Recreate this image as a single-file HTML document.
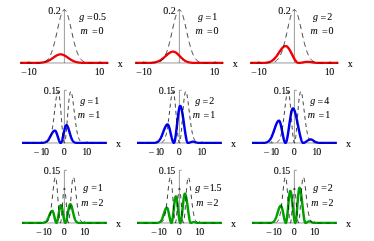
<!DOCTYPE html>
<html><head><meta charset="utf-8"><title>plots</title>
<style>html,body{margin:0;padding:0;background:#fff;font-family:"Liberation Serif",serif;}svg{display:block;will-change:transform}</style>
</head><body>
<svg width="374" height="241" viewBox="0 0 374 241">
<rect width="374" height="241" fill="#fff"/>
<path d="M20.20,62.96 H108.30 M64.40,62.96 V9.30" stroke="#555" stroke-width="0.6" fill="none"/>
<path d="M28.80,62.96 v-1.9 M100.00,62.96 v-1.9 " stroke="#222" stroke-width="0.6" fill="none"/>
<g transform="scale(1.1,1)"><path d="M18.36,62.96 L18.63,62.96 L18.90,62.96 L19.16,62.96 L19.43,62.96 L19.70,62.96 L19.97,62.96 L20.23,62.96 L20.50,62.96 L20.77,62.96 L21.03,62.96 L21.30,62.96 L21.57,62.96 L21.83,62.96 L22.10,62.96 L22.37,62.96 L22.64,62.96 L22.90,62.96 L23.17,62.96 L23.44,62.96 L23.70,62.96 L23.97,62.96 L24.24,62.96 L24.50,62.96 L24.77,62.96 L25.04,62.96 L25.30,62.96 L25.57,62.96 L25.84,62.96 L26.11,62.96 L26.37,62.96 L26.64,62.96 L26.91,62.96 L27.17,62.96 L27.44,62.96 L27.71,62.96 L27.97,62.96 L28.24,62.96 L28.51,62.96 L28.78,62.96 L29.04,62.96 L29.31,62.95 L29.58,62.95 L29.84,62.95 L30.11,62.95 L30.38,62.95 L30.64,62.95 L30.91,62.95 L31.18,62.94 L31.45,62.94 L31.71,62.94 L31.98,62.94 L32.25,62.93 L32.51,62.93 L32.78,62.92 L33.05,62.92 L33.31,62.91 L33.58,62.91 L33.85,62.90 L34.11,62.89 L34.38,62.88 L34.65,62.87 L34.92,62.86 L35.18,62.85 L35.45,62.84 L35.72,62.82 L35.98,62.81 L36.25,62.79 L36.52,62.77 L36.78,62.75 L37.05,62.72 L37.32,62.70 L37.59,62.67 L37.85,62.64 L38.12,62.60 L38.39,62.57 L38.65,62.53 L38.92,62.48 L39.19,62.43 L39.45,62.38 L39.72,62.33 L39.99,62.27 L40.26,62.20 L40.52,62.14 L40.79,62.06 L41.06,61.98 L41.32,61.90 L41.59,61.81 L41.86,61.72 L42.12,61.62 L42.39,61.51 L42.66,61.40 L42.92,61.28 L43.19,61.16 L43.46,61.03 L43.73,60.90 L43.99,60.75 L44.26,60.61 L44.53,60.45 L44.79,60.29 L45.06,60.13 L45.33,59.96 L45.59,59.78 L45.86,59.60 L46.13,59.42 L46.40,59.23 L46.66,59.04 L46.93,58.84 L47.20,58.64 L47.46,58.44 L47.73,58.23 L48.00,58.03 L48.26,57.82 L48.53,57.61 L48.80,57.41 L49.07,57.20 L49.33,57.00 L49.60,56.80 L49.87,56.60 L50.13,56.41 L50.40,56.22 L50.67,56.03 L50.93,55.85 L51.20,55.68 L51.47,55.52 L51.73,55.37 L52.00,55.22 L52.27,55.08 L52.54,54.96 L52.80,54.84 L53.07,54.74 L53.34,54.65 L53.60,54.57 L53.87,54.50 L54.14,54.45 L54.40,54.40 L54.67,54.38 L54.94,54.36 L55.21,54.36 L55.47,54.37 L55.74,54.40 L56.01,54.44 L56.27,54.49 L56.54,54.56 L56.81,54.64 L57.07,54.73 L57.34,54.83 L57.61,54.94 L57.88,55.07 L58.14,55.20 L58.41,55.35 L58.68,55.50 L58.94,55.66 L59.21,55.83 L59.48,56.01 L59.74,56.19 L60.01,56.38 L60.28,56.57 L60.54,56.77 L60.81,56.97 L61.08,57.17 L61.35,57.38 L61.61,57.58 L61.88,57.79 L62.15,58.00 L62.41,58.20 L62.68,58.41 L62.95,58.61 L63.21,58.81 L63.48,59.01 L63.75,59.20 L64.02,59.39 L64.28,59.58 L64.55,59.76 L64.82,59.94 L65.08,60.11 L65.35,60.27 L65.62,60.43 L65.88,60.59 L66.15,60.73 L66.42,60.88 L66.69,61.01 L66.95,61.14 L67.22,61.27 L67.49,61.38 L67.75,61.50 L68.02,61.60 L68.29,61.70 L68.55,61.80 L68.82,61.89 L69.09,61.97 L69.35,62.05 L69.62,62.13 L69.89,62.19 L70.16,62.26 L70.42,62.32 L70.69,62.38 L70.96,62.43 L71.22,62.48 L71.49,62.52 L71.76,62.56 L72.02,62.60 L72.29,62.63 L72.56,62.66 L72.83,62.69 L73.09,62.72 L73.36,62.74 L73.63,62.77 L73.89,62.79 L74.16,62.81 L74.43,62.82 L74.69,62.84 L74.96,62.85 L75.23,62.86 L75.50,62.87 L75.76,62.88 L76.03,62.89 L76.30,62.90 L76.56,62.91 L76.83,62.91 L77.10,62.92 L77.36,62.92 L77.63,62.93 L77.90,62.93 L78.16,62.94 L78.43,62.94 L78.70,62.94 L78.97,62.94 L79.23,62.95 L79.50,62.95 L79.77,62.95 L80.03,62.95 L80.30,62.95 L80.57,62.95 L80.83,62.95 L81.10,62.96 L81.37,62.96 L81.64,62.96 L81.90,62.96 L82.17,62.96 L82.44,62.96 L82.70,62.96 L82.97,62.96 L83.24,62.96 L83.50,62.96 L83.77,62.96 L84.04,62.96 L84.31,62.96 L84.57,62.96 L84.84,62.96 L85.11,62.96 L85.37,62.96 L85.64,62.96 L85.91,62.96 L86.17,62.96 L86.44,62.96 L86.71,62.96 L86.97,62.96 L87.24,62.96 L87.51,62.96 L87.78,62.96 L88.04,62.96 L88.31,62.96 L88.58,62.96 L88.84,62.96 L89.11,62.96 L89.38,62.96 L89.64,62.96 L89.91,62.96 L90.18,62.96 L90.45,62.96 L90.71,62.96 L90.98,62.96 L91.25,62.96 L91.51,62.96 L91.78,62.96 L92.05,62.96 L92.31,62.96 L92.58,62.96 L92.85,62.96 L93.12,62.96 L93.38,62.96 L93.65,62.96 L93.92,62.96 L94.18,62.96 L94.45,62.96 L94.72,62.96 L94.98,62.96 L95.25,62.96 L95.52,62.96 L95.78,62.96 L96.05,62.96 L96.32,62.96 L96.59,62.96 L96.85,62.96 L97.12,62.96 L97.39,62.96 L97.65,62.96 L97.92,62.96 L98.19,62.96 L98.45,62.96" stroke="#f00000" stroke-width="2.25" stroke-linejoin="round" fill="none"/></g>
<path d="M20.20,62.96 L20.49,62.96 L20.79,62.96 L21.08,62.96 L21.37,62.96 L21.67,62.96 L21.96,62.96 L22.26,62.96 L22.55,62.96 L22.84,62.96 L23.14,62.96 L23.43,62.96 L23.72,62.96 L24.02,62.96 L24.31,62.96 L24.61,62.96 L24.90,62.96 L25.19,62.96 L25.49,62.96 L25.78,62.96 L26.07,62.96 L26.37,62.96 L26.66,62.96 L26.95,62.96 L27.25,62.96 L27.54,62.96 L27.84,62.96 L28.13,62.96 L28.42,62.96 L28.72,62.96 L29.01,62.96 L29.30,62.96 L29.60,62.96 L29.89,62.96 L30.18,62.96 L30.48,62.96 L30.77,62.96 L31.07,62.96 L31.36,62.96 L31.65,62.96 L31.95,62.96 L32.24,62.96 L32.53,62.96 L32.83,62.96 L33.12,62.96 L33.41,62.96 L33.71,62.96 L34.00,62.95 L34.30,62.95 L34.59,62.95 L34.88,62.95 L35.18,62.95 L35.47,62.95 L35.76,62.94 L36.06,62.94 L36.35,62.94 L36.65,62.93 L36.94,62.93 L37.23,62.92 L37.53,62.92 L37.82,62.91 L38.11,62.90 L38.41,62.89 L38.70,62.88 L38.99,62.87 L39.29,62.85 L39.58,62.84 L39.88,62.82 L40.17,62.80 L40.46,62.77 L40.76,62.75 L41.05,62.71 L41.34,62.68 L41.64,62.64 L41.93,62.59 L42.22,62.54 L42.52,62.49 L42.81,62.42 L43.11,62.35 L43.40,62.27 L43.69,62.18 L43.99,62.09 L44.28,61.98" stroke="#000" stroke-width="0.75" stroke-dasharray="5.2 3.9" stroke-dashoffset="2.66" stroke-opacity="0.55" fill="none"/>
<path d="M44.28,61.98 L44.57,61.86 L44.87,61.72 L45.16,61.58 L45.46,61.41 L45.75,61.24 L46.04,61.04 L46.34,60.83 L46.63,60.60 L46.92,60.34 L47.22,60.06 L47.51,59.76 L47.80,59.44 L48.10,59.09 L48.39,58.71 L48.69,58.30 L48.98,57.86 L49.27,57.39 L49.57,56.88 L49.86,56.34 L50.15,55.77 L50.45,55.15 L50.74,54.50 L51.03,53.81 L51.33,53.09 L51.62,52.32 L51.92,51.51 L52.21,50.66 L52.50,49.77 L52.80,48.85 L53.09,47.88 L53.38,46.87 L53.68,45.82 L53.97,44.74 L54.27,43.62 L54.56,42.47 L54.85,41.29 L55.15,40.08 L55.44,38.84 L55.73,37.57 L56.03,36.29 L56.32,34.99 L56.61,33.67 L56.91,32.35 L57.20,31.01 L57.50,29.68 L57.79,28.35 L58.08,27.03 L58.38,25.73 L58.67,24.44 L58.96,23.17 L59.26,21.93 L59.55,20.73 L59.84,19.56 L60.14,18.44 L60.43,17.37 L60.73,16.35 L61.02,15.38 L61.31,14.48 L61.61,13.65 L61.90,12.89 L62.19,12.20 L62.49,11.59 L62.78,11.07 L63.08,10.62 L63.37,10.26 L63.66,9.99 L63.96,9.81 L64.25,9.72 L64.54,9.72 L64.84,9.81 L65.13,9.99 L65.42,10.26 L65.72,10.61 L66.01,11.06 L66.31,11.58 L66.60,12.19 L66.89,12.87 L67.19,13.63 L67.48,14.47 L67.77,15.36 L68.07,16.32 L68.36,17.34 L68.65,18.42 L68.95,19.54 L69.24,20.70 L69.54,21.91 L69.83,23.14 L70.12,24.41 L70.42,25.70 L70.71,27.01 L71.00,28.33 L71.30,29.65 L71.59,30.99 L71.89,32.32 L72.18,33.64 L72.47,34.96 L72.77,36.26 L73.06,37.54 L73.35,38.81 L73.65,40.05 L73.94,41.26 L74.23,42.45 L74.53,43.60 L74.82,44.72 L75.12,45.80 L75.41,46.85 L75.70,47.86 L76.00,48.83 L76.29,49.75 L76.58,50.64 L76.88,51.49 L77.17,52.30 L77.47,53.07 L77.76,53.80 L78.05,54.49 L78.35,55.14 L78.64,55.75 L78.93,56.33 L79.23,56.87 L79.52,57.38 L79.81,57.85 L80.11,58.29 L80.40,58.70 L80.70,59.08 L80.99,59.43 L81.28,59.76 L81.58,60.06 L81.87,60.34 L82.16,60.59 L82.46,60.82 L82.75,61.04 L83.04,61.23 L83.34,61.41 L83.63,61.57 L83.93,61.72 L84.22,61.85 L84.51,61.97" stroke="#000" stroke-width="0.75" stroke-dasharray="5.2 3.9" stroke-dashoffset="8.64" fill="none"/>
<path d="M84.51,61.97 L84.81,62.08 L85.10,62.18 L85.39,62.27 L85.69,62.35 L85.98,62.42 L86.28,62.49 L86.57,62.54 L86.86,62.59 L87.16,62.64 L87.45,62.68 L87.74,62.71 L88.04,62.74 L88.33,62.77 L88.62,62.80 L88.92,62.82 L89.21,62.84 L89.51,62.85 L89.80,62.87 L90.09,62.88 L90.39,62.89 L90.68,62.90 L90.97,62.91 L91.27,62.92 L91.56,62.92 L91.85,62.93 L92.15,62.93 L92.44,62.94 L92.74,62.94 L93.03,62.94 L93.32,62.95 L93.62,62.95 L93.91,62.95 L94.20,62.95 L94.50,62.95 L94.79,62.95 L95.09,62.96 L95.38,62.96 L95.67,62.96 L95.97,62.96 L96.26,62.96 L96.55,62.96 L96.85,62.96 L97.14,62.96 L97.43,62.96 L97.73,62.96 L98.02,62.96 L98.32,62.96 L98.61,62.96 L98.90,62.96 L99.20,62.96 L99.49,62.96 L99.78,62.96 L100.08,62.96 L100.37,62.96 L100.66,62.96 L100.96,62.96 L101.25,62.96 L101.55,62.96 L101.84,62.96 L102.13,62.96 L102.43,62.96 L102.72,62.96 L103.01,62.96 L103.31,62.96 L103.60,62.96 L103.89,62.96 L104.19,62.96 L104.48,62.96 L104.78,62.96 L105.07,62.96 L105.36,62.96 L105.66,62.96 L105.95,62.96 L106.24,62.96 L106.54,62.96 L106.83,62.96 L107.13,62.96 L107.42,62.96 L107.71,62.96 L108.01,62.96 L108.30,62.96" stroke="#000" stroke-width="0.75" stroke-dasharray="5.2 3.9" stroke-dashoffset="5.36" stroke-opacity="0.55" fill="none"/>
<path d="M135.20,62.96 H223.30 M179.40,62.96 V9.30" stroke="#555" stroke-width="0.6" fill="none"/>
<path d="M143.80,62.96 v-1.9 M215.00,62.96 v-1.9 " stroke="#222" stroke-width="0.6" fill="none"/>
<g transform="scale(1.1,1)"><path d="M122.91,62.96 L123.18,62.96 L123.44,62.96 L123.71,62.96 L123.98,62.96 L124.24,62.96 L124.51,62.96 L124.78,62.96 L125.04,62.96 L125.31,62.96 L125.58,62.96 L125.85,62.96 L126.11,62.96 L126.38,62.96 L126.65,62.96 L126.91,62.96 L127.18,62.96 L127.45,62.96 L127.71,62.96 L127.98,62.96 L128.25,62.96 L128.52,62.96 L128.78,62.96 L129.05,62.96 L129.32,62.96 L129.58,62.96 L129.85,62.96 L130.12,62.96 L130.38,62.95 L130.65,62.95 L130.92,62.95 L131.19,62.95 L131.45,62.95 L131.72,62.95 L131.99,62.95 L132.25,62.95 L132.52,62.94 L132.79,62.94 L133.05,62.94 L133.32,62.93 L133.59,62.93 L133.85,62.93 L134.12,62.92 L134.39,62.92 L134.66,62.91 L134.92,62.90 L135.19,62.90 L135.46,62.89 L135.72,62.88 L135.99,62.87 L136.26,62.86 L136.52,62.84 L136.79,62.83 L137.06,62.81 L137.33,62.79 L137.59,62.78 L137.86,62.75 L138.13,62.73 L138.39,62.70 L138.66,62.68 L138.93,62.64 L139.19,62.61 L139.46,62.57 L139.73,62.53 L140.00,62.49 L140.26,62.44 L140.53,62.39 L140.80,62.33 L141.06,62.27 L141.33,62.21 L141.60,62.14 L141.86,62.06 L142.13,61.98 L142.40,61.89 L142.66,61.80 L142.93,61.70 L143.20,61.60 L143.47,61.49 L143.73,61.37 L144.00,61.24 L144.27,61.11 L144.53,60.97 L144.80,60.82 L145.07,60.67 L145.33,60.51 L145.60,60.34 L145.87,60.16 L146.14,59.98 L146.40,59.78 L146.67,59.58 L146.94,59.38 L147.20,59.16 L147.47,58.94 L147.74,58.72 L148.00,58.49 L148.27,58.25 L148.54,58.00 L148.81,57.76 L149.07,57.50 L149.34,57.25 L149.61,56.99 L149.87,56.73 L150.14,56.46 L150.41,56.20 L150.67,55.93 L150.94,55.67 L151.21,55.41 L151.47,55.15 L151.74,54.89 L152.01,54.63 L152.28,54.39 L152.54,54.14 L152.81,53.91 L153.08,53.68 L153.34,53.46 L153.61,53.24 L153.88,53.04 L154.14,52.85 L154.41,52.68 L154.68,52.51 L154.95,52.36 L155.21,52.22 L155.48,52.09 L155.75,51.98 L156.01,51.89 L156.28,51.81 L156.55,51.75 L156.81,51.70 L157.08,51.67 L157.35,51.66 L157.62,51.67 L157.88,51.70 L158.15,51.75 L158.42,51.82 L158.68,51.91 L158.95,52.03 L159.22,52.16 L159.48,52.32 L159.75,52.49 L160.02,52.68 L160.28,52.89 L160.55,53.11 L160.82,53.34 L161.09,53.59 L161.35,53.86 L161.62,54.13 L161.89,54.41 L162.15,54.69 L162.42,54.99 L162.69,55.29 L162.95,55.59 L163.22,55.89 L163.49,56.20 L163.76,56.50 L164.02,56.80 L164.29,57.10 L164.56,57.40 L164.82,57.69 L165.09,57.98 L165.36,58.26 L165.62,58.53 L165.89,58.80 L166.16,59.06 L166.43,59.31 L166.69,59.55 L166.96,59.78 L167.23,60.00 L167.49,60.21 L167.76,60.41 L168.03,60.60 L168.29,60.78 L168.56,60.95 L168.83,61.11 L169.09,61.26 L169.36,61.41 L169.63,61.54 L169.90,61.66 L170.16,61.78 L170.43,61.89 L170.70,61.99 L170.96,62.08 L171.23,62.16 L171.50,62.24 L171.76,62.31 L172.03,62.38 L172.30,62.44 L172.57,62.49 L172.83,62.54 L173.10,62.59 L173.37,62.63 L173.63,62.67 L173.90,62.70 L174.17,62.73 L174.43,62.76 L174.70,62.78 L174.97,62.80 L175.24,62.82 L175.50,62.84 L175.77,62.86 L176.04,62.87 L176.30,62.88 L176.57,62.89 L176.84,62.90 L177.10,62.91 L177.37,62.92 L177.64,62.92 L177.90,62.93 L178.17,62.93 L178.44,62.94 L178.71,62.94 L178.97,62.94 L179.24,62.94 L179.51,62.95 L179.77,62.95 L180.04,62.95 L180.31,62.95 L180.57,62.95 L180.84,62.95 L181.11,62.96 L181.38,62.96 L181.64,62.96 L181.91,62.96 L182.18,62.96 L182.44,62.96 L182.71,62.96 L182.98,62.96 L183.24,62.96 L183.51,62.96 L183.78,62.96 L184.05,62.96 L184.31,62.96 L184.58,62.96 L184.85,62.96 L185.11,62.96 L185.38,62.96 L185.65,62.96 L185.91,62.96 L186.18,62.96 L186.45,62.96 L186.71,62.96 L186.98,62.96 L187.25,62.96 L187.52,62.96 L187.78,62.96 L188.05,62.96 L188.32,62.96 L188.58,62.96 L188.85,62.96 L189.12,62.96 L189.38,62.96 L189.65,62.96 L189.92,62.96 L190.19,62.96 L190.45,62.96 L190.72,62.96 L190.99,62.96 L191.25,62.96 L191.52,62.96 L191.79,62.96 L192.05,62.96 L192.32,62.96 L192.59,62.96 L192.86,62.96 L193.12,62.96 L193.39,62.96 L193.66,62.96 L193.92,62.96 L194.19,62.96 L194.46,62.96 L194.72,62.96 L194.99,62.96 L195.26,62.96 L195.52,62.96 L195.79,62.96 L196.06,62.96 L196.33,62.96 L196.59,62.96 L196.86,62.96 L197.13,62.96 L197.39,62.96 L197.66,62.96 L197.93,62.96 L198.19,62.96 L198.46,62.96 L198.73,62.96 L199.00,62.96 L199.26,62.96 L199.53,62.96 L199.80,62.96 L200.06,62.96 L200.33,62.96 L200.60,62.96 L200.86,62.96 L201.13,62.96 L201.40,62.96 L201.67,62.96 L201.93,62.96 L202.20,62.96 L202.47,62.96 L202.73,62.96 L203.00,62.96" stroke="#f00000" stroke-width="2.25" stroke-linejoin="round" fill="none"/></g>
<path d="M135.20,62.96 L135.49,62.96 L135.79,62.96 L136.08,62.96 L136.37,62.96 L136.67,62.96 L136.96,62.96 L137.26,62.96 L137.55,62.96 L137.84,62.96 L138.14,62.96 L138.43,62.96 L138.72,62.96 L139.02,62.96 L139.31,62.96 L139.60,62.96 L139.90,62.96 L140.19,62.96 L140.49,62.96 L140.78,62.96 L141.07,62.96 L141.37,62.96 L141.66,62.96 L141.95,62.96 L142.25,62.96 L142.54,62.96 L142.84,62.96 L143.13,62.96 L143.42,62.96 L143.72,62.96 L144.01,62.96 L144.30,62.96 L144.60,62.96 L144.89,62.96 L145.18,62.96 L145.48,62.96 L145.77,62.96 L146.07,62.96 L146.36,62.96 L146.65,62.96 L146.95,62.96 L147.24,62.96 L147.53,62.96 L147.83,62.96 L148.12,62.96 L148.41,62.96 L148.71,62.96 L149.00,62.95 L149.30,62.95 L149.59,62.95 L149.88,62.95 L150.18,62.95 L150.47,62.95 L150.76,62.94 L151.06,62.94 L151.35,62.94 L151.65,62.93 L151.94,62.93 L152.23,62.92 L152.53,62.92 L152.82,62.91 L153.11,62.90 L153.41,62.89 L153.70,62.88 L153.99,62.87 L154.29,62.85 L154.58,62.84 L154.88,62.82 L155.17,62.80 L155.46,62.77 L155.76,62.75 L156.05,62.71 L156.34,62.68 L156.64,62.64 L156.93,62.59 L157.22,62.54 L157.52,62.49 L157.81,62.42 L158.11,62.35 L158.40,62.27 L158.69,62.18 L158.99,62.09 L159.28,61.98" stroke="#000" stroke-width="0.75" stroke-dasharray="5.2 3.9" stroke-dashoffset="2.66" stroke-opacity="0.55" fill="none"/>
<path d="M159.28,61.98 L159.57,61.86 L159.87,61.72 L160.16,61.58 L160.46,61.41 L160.75,61.24 L161.04,61.04 L161.34,60.83 L161.63,60.60 L161.92,60.34 L162.22,60.06 L162.51,59.76 L162.80,59.44 L163.10,59.09 L163.39,58.71 L163.69,58.30 L163.98,57.86 L164.27,57.39 L164.57,56.88 L164.86,56.34 L165.15,55.77 L165.45,55.15 L165.74,54.50 L166.03,53.81 L166.33,53.09 L166.62,52.32 L166.92,51.51 L167.21,50.66 L167.50,49.77 L167.80,48.85 L168.09,47.88 L168.38,46.87 L168.68,45.82 L168.97,44.74 L169.27,43.62 L169.56,42.47 L169.85,41.29 L170.15,40.08 L170.44,38.84 L170.73,37.57 L171.03,36.29 L171.32,34.99 L171.61,33.67 L171.91,32.35 L172.20,31.01 L172.50,29.68 L172.79,28.35 L173.08,27.03 L173.38,25.73 L173.67,24.44 L173.96,23.17 L174.26,21.93 L174.55,20.73 L174.84,19.56 L175.14,18.44 L175.43,17.37 L175.73,16.35 L176.02,15.38 L176.31,14.48 L176.61,13.65 L176.90,12.89 L177.19,12.20 L177.49,11.59 L177.78,11.07 L178.08,10.62 L178.37,10.26 L178.66,9.99 L178.96,9.81 L179.25,9.72 L179.54,9.72 L179.84,9.81 L180.13,9.99 L180.42,10.26 L180.72,10.61 L181.01,11.06 L181.31,11.58 L181.60,12.19 L181.89,12.87 L182.19,13.63 L182.48,14.47 L182.77,15.36 L183.07,16.32 L183.36,17.34 L183.66,18.42 L183.95,19.54 L184.24,20.70 L184.54,21.91 L184.83,23.14 L185.12,24.41 L185.42,25.70 L185.71,27.01 L186.00,28.33 L186.30,29.65 L186.59,30.99 L186.89,32.32 L187.18,33.64 L187.47,34.96 L187.77,36.26 L188.06,37.54 L188.35,38.81 L188.65,40.05 L188.94,41.26 L189.23,42.45 L189.53,43.60 L189.82,44.72 L190.12,45.80 L190.41,46.85 L190.70,47.86 L191.00,48.83 L191.29,49.75 L191.58,50.64 L191.88,51.49 L192.17,52.30 L192.47,53.07 L192.76,53.80 L193.05,54.49 L193.35,55.14 L193.64,55.75 L193.93,56.33 L194.23,56.87 L194.52,57.38 L194.81,57.85 L195.11,58.29 L195.40,58.70 L195.70,59.08 L195.99,59.43 L196.28,59.76 L196.58,60.06 L196.87,60.34 L197.16,60.59 L197.46,60.82 L197.75,61.04 L198.04,61.23 L198.34,61.41 L198.63,61.57 L198.93,61.72 L199.22,61.85 L199.51,61.97" stroke="#000" stroke-width="0.75" stroke-dasharray="5.2 3.9" stroke-dashoffset="8.64" fill="none"/>
<path d="M199.51,61.97 L199.81,62.08 L200.10,62.18 L200.39,62.27 L200.69,62.35 L200.98,62.42 L201.28,62.49 L201.57,62.54 L201.86,62.59 L202.16,62.64 L202.45,62.68 L202.74,62.71 L203.04,62.74 L203.33,62.77 L203.62,62.80 L203.92,62.82 L204.21,62.84 L204.51,62.85 L204.80,62.87 L205.09,62.88 L205.39,62.89 L205.68,62.90 L205.97,62.91 L206.27,62.92 L206.56,62.92 L206.85,62.93 L207.15,62.93 L207.44,62.94 L207.74,62.94 L208.03,62.94 L208.32,62.95 L208.62,62.95 L208.91,62.95 L209.20,62.95 L209.50,62.95 L209.79,62.95 L210.09,62.96 L210.38,62.96 L210.67,62.96 L210.97,62.96 L211.26,62.96 L211.55,62.96 L211.85,62.96 L212.14,62.96 L212.43,62.96 L212.73,62.96 L213.02,62.96 L213.32,62.96 L213.61,62.96 L213.90,62.96 L214.20,62.96 L214.49,62.96 L214.78,62.96 L215.08,62.96 L215.37,62.96 L215.66,62.96 L215.96,62.96 L216.25,62.96 L216.55,62.96 L216.84,62.96 L217.13,62.96 L217.43,62.96 L217.72,62.96 L218.01,62.96 L218.31,62.96 L218.60,62.96 L218.90,62.96 L219.19,62.96 L219.48,62.96 L219.78,62.96 L220.07,62.96 L220.36,62.96 L220.66,62.96 L220.95,62.96 L221.24,62.96 L221.54,62.96 L221.83,62.96 L222.13,62.96 L222.42,62.96 L222.71,62.96 L223.01,62.96 L223.30,62.96" stroke="#000" stroke-width="0.75" stroke-dasharray="5.2 3.9" stroke-dashoffset="5.36" stroke-opacity="0.55" fill="none"/>
<path d="M250.20,62.96 H338.30 M294.40,62.96 V9.30" stroke="#555" stroke-width="0.6" fill="none"/>
<path d="M258.80,62.96 v-1.9 M330.00,62.96 v-1.9 " stroke="#222" stroke-width="0.6" fill="none"/>
<g transform="scale(1.1,1)"><path d="M227.45,62.96 L227.72,62.96 L227.99,62.96 L228.26,62.96 L228.52,62.96 L228.79,62.96 L229.06,62.96 L229.32,62.96 L229.59,62.96 L229.86,62.96 L230.12,62.96 L230.39,62.96 L230.66,62.96 L230.93,62.96 L231.19,62.96 L231.46,62.96 L231.73,62.96 L231.99,62.96 L232.26,62.96 L232.53,62.96 L232.79,62.96 L233.06,62.96 L233.33,62.96 L233.59,62.96 L233.86,62.96 L234.13,62.96 L234.40,62.96 L234.66,62.96 L234.93,62.95 L235.20,62.95 L235.46,62.95 L235.73,62.95 L236.00,62.95 L236.26,62.95 L236.53,62.95 L236.80,62.94 L237.07,62.94 L237.33,62.94 L237.60,62.93 L237.87,62.93 L238.13,62.92 L238.40,62.92 L238.67,62.91 L238.93,62.90 L239.20,62.89 L239.47,62.88 L239.74,62.87 L240.00,62.86 L240.27,62.84 L240.54,62.82 L240.80,62.80 L241.07,62.78 L241.34,62.76 L241.60,62.73 L241.87,62.70 L242.14,62.66 L242.40,62.63 L242.67,62.58 L242.94,62.54 L243.21,62.48 L243.47,62.43 L243.74,62.36 L244.01,62.29 L244.27,62.22 L244.54,62.13 L244.81,62.04 L245.07,61.94 L245.34,61.83 L245.61,61.71 L245.88,61.59 L246.14,61.45 L246.41,61.30 L246.68,61.14 L246.94,60.97 L247.21,60.78 L247.48,60.59 L247.74,60.38 L248.01,60.16 L248.28,59.92 L248.55,59.67 L248.81,59.40 L249.08,59.13 L249.35,58.83 L249.61,58.53 L249.88,58.21 L250.15,57.87 L250.41,57.53 L250.68,57.17 L250.95,56.80 L251.21,56.41 L251.48,56.02 L251.75,55.61 L252.02,55.20 L252.28,54.78 L252.55,54.35 L252.82,53.91 L253.08,53.47 L253.35,53.03 L253.62,52.59 L253.88,52.15 L254.15,51.71 L254.42,51.27 L254.69,50.84 L254.95,50.42 L255.22,50.01 L255.49,49.60 L255.75,49.21 L256.02,48.84 L256.29,48.48 L256.55,48.15 L256.82,47.83 L257.09,47.53 L257.36,47.26 L257.62,47.01 L257.89,46.79 L258.16,46.60 L258.42,46.43 L258.69,46.30 L258.96,46.19 L259.22,46.12 L259.49,46.07 L259.76,46.06 L260.02,46.09 L260.29,46.18 L260.56,46.31 L260.83,46.48 L261.09,46.70 L261.36,46.96 L261.63,47.26 L261.89,47.60 L262.16,47.97 L262.43,48.37 L262.69,48.80 L262.96,49.25 L263.23,49.73 L263.50,50.23 L263.76,50.75 L264.03,51.28 L264.30,51.83 L264.56,52.39 L264.83,52.96 L265.10,53.54 L265.36,54.12 L265.63,54.70 L265.90,55.28 L266.17,55.85 L266.43,56.43 L266.70,56.99 L266.97,57.54 L267.23,58.08 L267.50,58.61 L267.77,59.11 L268.03,59.60 L268.30,60.06 L268.57,60.50 L268.83,60.91 L269.10,61.29 L269.37,61.64 L269.64,61.95 L269.90,62.23 L270.17,62.46 L270.44,62.66 L270.70,62.80 L270.97,62.90 L271.24,62.95 L271.50,62.96 L271.77,62.95 L272.04,62.94 L272.31,62.92 L272.57,62.89 L272.84,62.86 L273.11,62.83 L273.37,62.79 L273.64,62.75 L273.91,62.70 L274.17,62.66 L274.44,62.61 L274.71,62.55 L274.98,62.50 L275.24,62.44 L275.51,62.39 L275.78,62.33 L276.04,62.27 L276.31,62.22 L276.58,62.17 L276.84,62.11 L277.11,62.06 L277.38,62.01 L277.64,61.97 L277.91,61.93 L278.18,61.89 L278.45,61.85 L278.71,61.82 L278.98,61.80 L279.25,61.78 L279.51,61.77 L279.78,61.76 L280.05,61.76 L280.31,61.77 L280.58,61.78 L280.85,61.80 L281.12,61.82 L281.38,61.85 L281.65,61.89 L281.92,61.93 L282.18,61.97 L282.45,62.02 L282.72,62.07 L282.98,62.12 L283.25,62.17 L283.52,62.23 L283.79,62.28 L284.05,62.33 L284.32,62.38 L284.59,62.44 L284.85,62.48 L285.12,62.53 L285.39,62.57 L285.65,62.62 L285.92,62.65 L286.19,62.69 L286.45,62.72 L286.72,62.75 L286.99,62.78 L287.26,62.80 L287.52,62.83 L287.79,62.85 L288.06,62.86 L288.32,62.88 L288.59,62.89 L288.86,62.90 L289.12,62.91 L289.39,62.92 L289.66,62.93 L289.93,62.93 L290.19,62.94 L290.46,62.94 L290.73,62.95 L290.99,62.95 L291.26,62.95 L291.53,62.95 L291.79,62.95 L292.06,62.96 L292.33,62.96 L292.60,62.96 L292.86,62.96 L293.13,62.96 L293.40,62.96 L293.66,62.96 L293.93,62.96 L294.20,62.96 L294.46,62.96 L294.73,62.96 L295.00,62.96 L295.26,62.96 L295.53,62.96 L295.80,62.96 L296.07,62.96 L296.33,62.96 L296.60,62.96 L296.87,62.96 L297.13,62.96 L297.40,62.96 L297.67,62.96 L297.93,62.96 L298.20,62.96 L298.47,62.96 L298.74,62.96 L299.00,62.96 L299.27,62.96 L299.54,62.96 L299.80,62.96 L300.07,62.96 L300.34,62.96 L300.60,62.96 L300.87,62.96 L301.14,62.96 L301.41,62.96 L301.67,62.96 L301.94,62.96 L302.21,62.96 L302.47,62.96 L302.74,62.96 L303.01,62.96 L303.27,62.96 L303.54,62.96 L303.81,62.96 L304.07,62.96 L304.34,62.96 L304.61,62.96 L304.88,62.96 L305.14,62.96 L305.41,62.96 L305.68,62.96 L305.94,62.96 L306.21,62.96 L306.48,62.96 L306.74,62.96 L307.01,62.96 L307.28,62.96 L307.55,62.96" stroke="#f00000" stroke-width="2.25" stroke-linejoin="round" fill="none"/></g>
<path d="M250.20,62.96 L250.49,62.96 L250.79,62.96 L251.08,62.96 L251.37,62.96 L251.67,62.96 L251.96,62.96 L252.26,62.96 L252.55,62.96 L252.84,62.96 L253.14,62.96 L253.43,62.96 L253.72,62.96 L254.02,62.96 L254.31,62.96 L254.60,62.96 L254.90,62.96 L255.19,62.96 L255.49,62.96 L255.78,62.96 L256.07,62.96 L256.37,62.96 L256.66,62.96 L256.95,62.96 L257.25,62.96 L257.54,62.96 L257.84,62.96 L258.13,62.96 L258.42,62.96 L258.72,62.96 L259.01,62.96 L259.30,62.96 L259.60,62.96 L259.89,62.96 L260.18,62.96 L260.48,62.96 L260.77,62.96 L261.07,62.96 L261.36,62.96 L261.65,62.96 L261.95,62.96 L262.24,62.96 L262.53,62.96 L262.83,62.96 L263.12,62.96 L263.41,62.96 L263.71,62.96 L264.00,62.95 L264.30,62.95 L264.59,62.95 L264.88,62.95 L265.18,62.95 L265.47,62.95 L265.76,62.94 L266.06,62.94 L266.35,62.94 L266.65,62.93 L266.94,62.93 L267.23,62.92 L267.53,62.92 L267.82,62.91 L268.11,62.90 L268.41,62.89 L268.70,62.88 L268.99,62.87 L269.29,62.85 L269.58,62.84 L269.88,62.82 L270.17,62.80 L270.46,62.77 L270.76,62.75 L271.05,62.71 L271.34,62.68 L271.64,62.64 L271.93,62.59 L272.23,62.54 L272.52,62.49 L272.81,62.42 L273.11,62.35 L273.40,62.27 L273.69,62.18 L273.99,62.09 L274.28,61.98" stroke="#000" stroke-width="0.75" stroke-dasharray="5.2 3.9" stroke-dashoffset="2.66" stroke-opacity="0.55" fill="none"/>
<path d="M274.28,61.98 L274.57,61.86 L274.87,61.72 L275.16,61.58 L275.46,61.41 L275.75,61.24 L276.04,61.04 L276.34,60.83 L276.63,60.60 L276.92,60.34 L277.22,60.06 L277.51,59.76 L277.80,59.44 L278.10,59.09 L278.39,58.71 L278.69,58.30 L278.98,57.86 L279.27,57.39 L279.57,56.88 L279.86,56.34 L280.15,55.77 L280.45,55.15 L280.74,54.50 L281.03,53.81 L281.33,53.09 L281.62,52.32 L281.92,51.51 L282.21,50.66 L282.50,49.77 L282.80,48.85 L283.09,47.88 L283.38,46.87 L283.68,45.82 L283.97,44.74 L284.27,43.62 L284.56,42.47 L284.85,41.29 L285.15,40.08 L285.44,38.84 L285.73,37.57 L286.03,36.29 L286.32,34.99 L286.61,33.67 L286.91,32.35 L287.20,31.01 L287.50,29.68 L287.79,28.35 L288.08,27.03 L288.38,25.73 L288.67,24.44 L288.96,23.17 L289.26,21.93 L289.55,20.73 L289.85,19.56 L290.14,18.44 L290.43,17.37 L290.73,16.35 L291.02,15.38 L291.31,14.48 L291.61,13.65 L291.90,12.89 L292.19,12.20 L292.49,11.59 L292.78,11.07 L293.08,10.62 L293.37,10.26 L293.66,9.99 L293.96,9.81 L294.25,9.72 L294.54,9.72 L294.84,9.81 L295.13,9.99 L295.42,10.26 L295.72,10.61 L296.01,11.06 L296.31,11.58 L296.60,12.19 L296.89,12.87 L297.19,13.63 L297.48,14.47 L297.77,15.36 L298.07,16.32 L298.36,17.34 L298.65,18.42 L298.95,19.54 L299.24,20.70 L299.54,21.91 L299.83,23.14 L300.12,24.41 L300.42,25.70 L300.71,27.01 L301.00,28.33 L301.30,29.65 L301.59,30.99 L301.89,32.32 L302.18,33.64 L302.47,34.96 L302.77,36.26 L303.06,37.54 L303.35,38.81 L303.65,40.05 L303.94,41.26 L304.23,42.45 L304.53,43.60 L304.82,44.72 L305.12,45.80 L305.41,46.85 L305.70,47.86 L306.00,48.83 L306.29,49.75 L306.58,50.64 L306.88,51.49 L307.17,52.30 L307.47,53.07 L307.76,53.80 L308.05,54.49 L308.35,55.14 L308.64,55.75 L308.93,56.33 L309.23,56.87 L309.52,57.38 L309.81,57.85 L310.11,58.29 L310.40,58.70 L310.70,59.08 L310.99,59.43 L311.28,59.76 L311.58,60.06 L311.87,60.34 L312.16,60.59 L312.46,60.82 L312.75,61.04 L313.04,61.23 L313.34,61.41 L313.63,61.57 L313.93,61.72 L314.22,61.85 L314.51,61.97" stroke="#000" stroke-width="0.75" stroke-dasharray="5.2 3.9" stroke-dashoffset="8.64" fill="none"/>
<path d="M314.51,61.97 L314.81,62.08 L315.10,62.18 L315.39,62.27 L315.69,62.35 L315.98,62.42 L316.27,62.49 L316.57,62.54 L316.86,62.59 L317.16,62.64 L317.45,62.68 L317.74,62.71 L318.04,62.74 L318.33,62.77 L318.62,62.80 L318.92,62.82 L319.21,62.84 L319.51,62.85 L319.80,62.87 L320.09,62.88 L320.39,62.89 L320.68,62.90 L320.97,62.91 L321.27,62.92 L321.56,62.92 L321.85,62.93 L322.15,62.93 L322.44,62.94 L322.74,62.94 L323.03,62.94 L323.32,62.95 L323.62,62.95 L323.91,62.95 L324.20,62.95 L324.50,62.95 L324.79,62.95 L325.09,62.96 L325.38,62.96 L325.67,62.96 L325.97,62.96 L326.26,62.96 L326.55,62.96 L326.85,62.96 L327.14,62.96 L327.43,62.96 L327.73,62.96 L328.02,62.96 L328.32,62.96 L328.61,62.96 L328.90,62.96 L329.20,62.96 L329.49,62.96 L329.78,62.96 L330.08,62.96 L330.37,62.96 L330.66,62.96 L330.96,62.96 L331.25,62.96 L331.55,62.96 L331.84,62.96 L332.13,62.96 L332.43,62.96 L332.72,62.96 L333.01,62.96 L333.31,62.96 L333.60,62.96 L333.89,62.96 L334.19,62.96 L334.48,62.96 L334.78,62.96 L335.07,62.96 L335.36,62.96 L335.66,62.96 L335.95,62.96 L336.24,62.96 L336.54,62.96 L336.83,62.96 L337.13,62.96 L337.42,62.96 L337.71,62.96 L338.01,62.96 L338.30,62.96" stroke="#000" stroke-width="0.75" stroke-dasharray="5.2 3.9" stroke-dashoffset="5.36" stroke-opacity="0.55" fill="none"/>
<path d="M22.00,142.96 H106.80 M64.40,142.96 V90.30 h2.4" stroke="#555" stroke-width="0.6" fill="none"/>
<path d="M41.70,142.96 v-1.9 M87.10,142.96 v-1.9 " stroke="#222" stroke-width="0.6" fill="none"/>
<g transform="scale(1.1,1)"><path d="M20.00,142.96 L20.26,142.96 L20.51,142.96 L20.77,142.96 L21.03,142.96 L21.28,142.96 L21.54,142.96 L21.80,142.96 L22.06,142.96 L22.31,142.96 L22.57,142.96 L22.83,142.96 L23.08,142.96 L23.34,142.96 L23.60,142.96 L23.85,142.96 L24.11,142.96 L24.37,142.96 L24.63,142.96 L24.88,142.96 L25.14,142.96 L25.40,142.96 L25.65,142.96 L25.91,142.96 L26.17,142.96 L26.42,142.96 L26.68,142.96 L26.94,142.96 L27.20,142.96 L27.45,142.96 L27.71,142.96 L27.97,142.96 L28.22,142.96 L28.48,142.96 L28.74,142.96 L28.99,142.96 L29.25,142.96 L29.51,142.96 L29.76,142.96 L30.02,142.96 L30.28,142.96 L30.54,142.96 L30.79,142.96 L31.05,142.96 L31.31,142.96 L31.56,142.96 L31.82,142.96 L32.08,142.96 L32.33,142.96 L32.59,142.96 L32.85,142.96 L33.11,142.96 L33.36,142.96 L33.62,142.96 L33.88,142.96 L34.13,142.96 L34.39,142.96 L34.65,142.96 L34.90,142.96 L35.16,142.96 L35.42,142.96 L35.68,142.95 L35.93,142.95 L36.19,142.95 L36.45,142.95 L36.70,142.94 L36.96,142.94 L37.22,142.93 L37.47,142.92 L37.73,142.91 L37.99,142.90 L38.24,142.89 L38.50,142.87 L38.76,142.85 L39.02,142.82 L39.27,142.79 L39.53,142.75 L39.79,142.70 L40.04,142.65 L40.30,142.58 L40.56,142.51 L40.81,142.42 L41.07,142.31 L41.33,142.19 L41.59,142.06 L41.84,141.90 L42.10,141.72 L42.36,141.53 L42.61,141.30 L42.87,141.06 L43.13,140.78 L43.38,140.48 L43.64,140.15 L43.90,139.80 L44.16,139.41 L44.41,139.00 L44.67,138.57 L44.93,138.11 L45.18,137.63 L45.44,137.13 L45.70,136.62 L45.95,136.10 L46.21,135.57 L46.47,135.04 L46.72,134.51 L46.98,133.99 L47.24,133.49 L47.50,133.01 L47.75,132.56 L48.01,132.14 L48.27,131.76 L48.52,131.43 L48.78,131.14 L49.04,130.91 L49.29,130.74 L49.55,130.62 L49.81,130.56 L50.07,130.59 L50.32,130.77 L50.58,131.10 L50.84,131.56 L51.09,132.13 L51.35,132.80 L51.61,133.55 L51.86,134.36 L52.12,135.21 L52.38,136.10 L52.64,136.99 L52.89,137.89 L53.15,138.76 L53.41,139.59 L53.66,140.37 L53.92,141.08 L54.18,141.70 L54.43,142.21 L54.69,142.61 L54.95,142.86 L55.20,142.96 L55.46,142.85 L55.72,142.50 L55.98,141.94 L56.23,141.18 L56.49,140.26 L56.75,139.21 L57.00,138.05 L57.26,136.80 L57.52,135.50 L57.77,134.17 L58.03,132.84 L58.29,131.53 L58.55,130.27 L58.80,129.09 L59.06,128.02 L59.32,127.08 L59.57,126.29 L59.83,125.70 L60.09,125.31 L60.34,125.16 L60.60,125.22 L60.86,125.43 L61.12,125.78 L61.37,126.26 L61.63,126.87 L61.89,127.58 L62.14,128.38 L62.40,129.25 L62.66,130.18 L62.91,131.14 L63.17,132.12 L63.43,133.10 L63.68,134.07 L63.94,135.01 L64.20,135.91 L64.46,136.76 L64.71,137.55 L64.97,138.28 L65.23,138.94 L65.48,139.54 L65.74,140.08 L66.00,140.55 L66.25,140.96 L66.51,141.31 L66.77,141.61 L67.03,141.87 L67.28,142.09 L67.54,142.26 L67.80,142.41 L68.05,142.53 L68.31,142.63 L68.57,142.70 L68.82,142.76 L69.08,142.81 L69.34,142.85 L69.60,142.88 L69.85,142.90 L70.11,142.91 L70.37,142.93 L70.62,142.94 L70.88,142.94 L71.14,142.95 L71.39,142.95 L71.65,142.95 L71.91,142.96 L72.16,142.96 L72.42,142.96 L72.68,142.96 L72.94,142.96 L73.19,142.96 L73.45,142.96 L73.71,142.96 L73.96,142.96 L74.22,142.96 L74.48,142.96 L74.73,142.96 L74.99,142.96 L75.25,142.96 L75.51,142.96 L75.76,142.96 L76.02,142.96 L76.28,142.96 L76.53,142.96 L76.79,142.96 L77.05,142.96 L77.30,142.96 L77.56,142.96 L77.82,142.96 L78.08,142.96 L78.33,142.96 L78.59,142.96 L78.85,142.96 L79.10,142.96 L79.36,142.96 L79.62,142.96 L79.87,142.96 L80.13,142.96 L80.39,142.96 L80.64,142.96 L80.90,142.96 L81.16,142.96 L81.42,142.96 L81.67,142.96 L81.93,142.96 L82.19,142.96 L82.44,142.96 L82.70,142.96 L82.96,142.96 L83.21,142.96 L83.47,142.96 L83.73,142.96 L83.99,142.96 L84.24,142.96 L84.50,142.96 L84.76,142.96 L85.01,142.96 L85.27,142.96 L85.53,142.96 L85.78,142.96 L86.04,142.96 L86.30,142.96 L86.56,142.96 L86.81,142.96 L87.07,142.96 L87.33,142.96 L87.58,142.96 L87.84,142.96 L88.10,142.96 L88.35,142.96 L88.61,142.96 L88.87,142.96 L89.12,142.96 L89.38,142.96 L89.64,142.96 L89.90,142.96 L90.15,142.96 L90.41,142.96 L90.67,142.96 L90.92,142.96 L91.18,142.96 L91.44,142.96 L91.69,142.96 L91.95,142.96 L92.21,142.96 L92.47,142.96 L92.72,142.96 L92.98,142.96 L93.24,142.96 L93.49,142.96 L93.75,142.96 L94.01,142.96 L94.26,142.96 L94.52,142.96 L94.78,142.96 L95.04,142.96 L95.29,142.96 L95.55,142.96 L95.81,142.96 L96.06,142.96 L96.32,142.96 L96.58,142.96 L96.83,142.96 L97.09,142.96" stroke="#0000f0" stroke-width="2.25" stroke-linejoin="round" fill="none"/></g>
<path d="M22.00,142.96 L22.28,142.96 L22.57,142.96 L22.85,142.96 L23.13,142.96 L23.41,142.96 L23.70,142.96 L23.98,142.96 L24.26,142.96 L24.54,142.96 L24.83,142.96 L25.11,142.96 L25.39,142.96 L25.67,142.96 L25.96,142.96 L26.24,142.96 L26.52,142.96 L26.81,142.96 L27.09,142.96 L27.37,142.96 L27.65,142.96 L27.94,142.96 L28.22,142.96 L28.50,142.96 L28.78,142.96 L29.07,142.96 L29.35,142.96 L29.63,142.96 L29.91,142.96 L30.20,142.96 L30.48,142.96 L30.76,142.96 L31.05,142.96 L31.33,142.96 L31.61,142.96 L31.89,142.96 L32.18,142.96 L32.46,142.96 L32.74,142.96 L33.02,142.96 L33.31,142.96 L33.59,142.96 L33.87,142.96 L34.15,142.96 L34.44,142.96 L34.72,142.96 L35.00,142.96 L35.29,142.96 L35.57,142.96 L35.85,142.96 L36.13,142.96 L36.42,142.96 L36.70,142.96 L36.98,142.96 L37.26,142.96 L37.55,142.96 L37.83,142.96 L38.11,142.96 L38.39,142.96 L38.68,142.96 L38.96,142.96 L39.24,142.96 L39.53,142.96 L39.81,142.96 L40.09,142.96 L40.37,142.96 L40.66,142.96 L40.94,142.96 L41.22,142.96 L41.50,142.95 L41.79,142.95 L42.07,142.95 L42.35,142.95 L42.63,142.94 L42.92,142.94 L43.20,142.93 L43.48,142.92 L43.77,142.91 L44.05,142.90 L44.33,142.88 L44.61,142.86 L44.90,142.83 L45.18,142.80 L45.46,142.76 L45.74,142.71 L46.03,142.64 L46.31,142.56 L46.59,142.47 L46.87,142.35 L47.16,142.22 L47.44,142.05" stroke="#000" stroke-width="0.75" stroke-dasharray="4.0 3.3" stroke-dashoffset="4.43" stroke-opacity="0.55" fill="none"/>
<path d="M47.44,142.05 L47.72,141.85 L48.01,141.61 L48.29,141.34 L48.57,141.01 L48.85,140.63 L49.14,140.18 L49.42,139.67 L49.70,139.07 L49.98,138.40 L50.27,137.62 L50.55,136.75 L50.83,135.77 L51.11,134.67 L51.40,133.45 L51.68,132.11 L51.96,130.63 L52.25,129.02 L52.53,127.28 L52.81,125.41 L53.09,123.42 L53.38,121.31 L53.66,119.09 L53.94,116.79 L54.22,114.42 L54.51,112.01 L54.79,109.57 L55.07,107.15 L55.35,104.76 L55.64,102.46 L55.92,100.27 L56.20,98.23 L56.49,96.39 L56.77,94.79 L57.05,93.46 L57.33,92.44 L57.62,91.76 L57.90,91.45 L58.18,91.54 L58.46,92.04 L58.75,92.95 L59.03,94.28 L59.31,96.02 L59.59,98.15 L59.88,100.65 L60.16,103.47 L60.44,106.57 L60.73,109.90 L61.01,113.39 L61.29,116.98 L61.57,120.60 L61.86,124.17 L62.14,127.61 L62.42,130.86 L62.70,133.85 L62.99,136.49 L63.27,138.75 L63.55,140.56 L63.83,141.88 L64.12,142.69 L64.40,142.96 L64.68,142.69 L64.97,141.88 L65.25,140.56 L65.53,138.75 L65.81,136.49 L66.10,133.85 L66.38,130.86 L66.66,127.61 L66.94,124.17 L67.23,120.60 L67.51,116.98 L67.79,113.39 L68.07,109.90 L68.36,106.57 L68.64,103.47 L68.92,100.65 L69.21,98.15 L69.49,96.02 L69.77,94.28 L70.05,92.95 L70.34,92.04 L70.62,91.54 L70.90,91.45 L71.18,91.76 L71.47,92.44 L71.75,93.46 L72.03,94.79 L72.31,96.39 L72.60,98.23 L72.88,100.27 L73.16,102.46 L73.45,104.76 L73.73,107.15 L74.01,109.57 L74.29,112.01 L74.58,114.42 L74.86,116.79 L75.14,119.09 L75.42,121.31 L75.71,123.42 L75.99,125.41 L76.27,127.28 L76.55,129.02 L76.84,130.63 L77.12,132.11 L77.40,133.45 L77.69,134.67 L77.97,135.77 L78.25,136.75 L78.53,137.62 L78.82,138.40 L79.10,139.07 L79.38,139.67 L79.66,140.18 L79.95,140.63 L80.23,141.01 L80.51,141.34 L80.79,141.61 L81.08,141.85 L81.36,142.05" stroke="#000" stroke-width="0.75" stroke-dasharray="4.0 3.3" stroke-dashoffset="0.81" fill="none"/>
<path d="M81.36,142.05 L81.64,142.22 L81.93,142.35 L82.21,142.47 L82.49,142.56 L82.77,142.64 L83.06,142.71 L83.34,142.76 L83.62,142.80 L83.90,142.83 L84.19,142.86 L84.47,142.88 L84.75,142.90 L85.03,142.91 L85.32,142.92 L85.60,142.93 L85.88,142.94 L86.17,142.94 L86.45,142.95 L86.73,142.95 L87.01,142.95 L87.30,142.95 L87.58,142.96 L87.86,142.96 L88.14,142.96 L88.43,142.96 L88.71,142.96 L88.99,142.96 L89.27,142.96 L89.56,142.96 L89.84,142.96 L90.12,142.96 L90.41,142.96 L90.69,142.96 L90.97,142.96 L91.25,142.96 L91.54,142.96 L91.82,142.96 L92.10,142.96 L92.38,142.96 L92.67,142.96 L92.95,142.96 L93.23,142.96 L93.51,142.96 L93.80,142.96 L94.08,142.96 L94.36,142.96 L94.65,142.96 L94.93,142.96 L95.21,142.96 L95.49,142.96 L95.78,142.96 L96.06,142.96 L96.34,142.96 L96.62,142.96 L96.91,142.96 L97.19,142.96 L97.47,142.96 L97.75,142.96 L98.04,142.96 L98.32,142.96 L98.60,142.96 L98.89,142.96 L99.17,142.96 L99.45,142.96 L99.73,142.96 L100.02,142.96 L100.30,142.96 L100.58,142.96 L100.86,142.96 L101.15,142.96 L101.43,142.96 L101.71,142.96 L101.99,142.96 L102.28,142.96 L102.56,142.96 L102.84,142.96 L103.13,142.96 L103.41,142.96 L103.69,142.96 L103.97,142.96 L104.26,142.96 L104.54,142.96 L104.82,142.96 L105.10,142.96 L105.39,142.96 L105.67,142.96 L105.95,142.96 L106.23,142.96 L106.52,142.96 L106.80,142.96" stroke="#000" stroke-width="0.75" stroke-dasharray="4.0 3.3" stroke-dashoffset="5.58" stroke-opacity="0.55" fill="none"/>
<path d="M137.00,142.96 H221.80 M179.40,142.96 V90.30 h2.4" stroke="#555" stroke-width="0.6" fill="none"/>
<path d="M156.70,142.96 v-1.9 M202.10,142.96 v-1.9 " stroke="#222" stroke-width="0.6" fill="none"/>
<g transform="scale(1.1,1)"><path d="M124.55,142.96 L124.80,142.96 L125.06,142.96 L125.32,142.96 L125.57,142.96 L125.83,142.96 L126.09,142.96 L126.34,142.96 L126.60,142.96 L126.86,142.96 L127.12,142.96 L127.37,142.96 L127.63,142.96 L127.89,142.96 L128.14,142.96 L128.40,142.96 L128.66,142.96 L128.91,142.96 L129.17,142.96 L129.43,142.96 L129.68,142.96 L129.94,142.96 L130.20,142.96 L130.46,142.96 L130.71,142.96 L130.97,142.96 L131.23,142.96 L131.48,142.96 L131.74,142.96 L132.00,142.96 L132.25,142.96 L132.51,142.96 L132.77,142.96 L133.03,142.96 L133.28,142.96 L133.54,142.96 L133.80,142.96 L134.05,142.96 L134.31,142.96 L134.57,142.96 L134.82,142.96 L135.08,142.96 L135.34,142.96 L135.60,142.96 L135.85,142.96 L136.11,142.96 L136.37,142.96 L136.62,142.96 L136.88,142.96 L137.14,142.95 L137.39,142.95 L137.65,142.95 L137.91,142.95 L138.16,142.94 L138.42,142.94 L138.68,142.93 L138.94,142.92 L139.19,142.91 L139.45,142.90 L139.71,142.88 L139.96,142.86 L140.22,142.84 L140.48,142.81 L140.73,142.78 L140.99,142.74 L141.25,142.69 L141.51,142.63 L141.76,142.57 L142.02,142.49 L142.28,142.39 L142.53,142.28 L142.79,142.16 L143.05,142.01 L143.30,141.85 L143.56,141.66 L143.82,141.44 L144.08,141.20 L144.33,140.92 L144.59,140.62 L144.85,140.28 L145.10,139.91 L145.36,139.50 L145.62,139.06 L145.87,138.57 L146.13,138.05 L146.39,137.49 L146.64,136.90 L146.90,136.27 L147.16,135.61 L147.42,134.93 L147.67,134.22 L147.93,133.48 L148.19,132.74 L148.44,131.98 L148.70,131.22 L148.96,130.47 L149.21,129.72 L149.47,129.00 L149.73,128.30 L149.99,127.64 L150.24,127.02 L150.50,126.45 L150.76,125.94 L151.01,125.49 L151.27,125.11 L151.53,124.80 L151.78,124.57 L152.04,124.43 L152.30,124.36 L152.56,124.42 L152.81,124.68 L153.07,125.14 L153.33,125.76 L153.58,126.53 L153.84,127.43 L154.10,128.44 L154.35,129.54 L154.61,130.70 L154.87,131.92 L155.12,133.16 L155.38,134.41 L155.64,135.65 L155.90,136.86 L156.15,138.01 L156.41,139.09 L156.67,140.08 L156.92,140.96 L157.18,141.70 L157.44,142.29 L157.69,142.71 L157.95,142.93 L158.21,142.91 L158.47,142.50 L158.72,141.71 L158.98,140.56 L159.24,139.10 L159.49,137.38 L159.75,135.42 L160.01,133.28 L160.26,130.99 L160.52,128.59 L160.78,126.12 L161.04,123.63 L161.29,121.15 L161.55,118.72 L161.81,116.38 L162.06,114.18 L162.32,112.15 L162.58,110.33 L162.83,108.77 L163.09,107.50 L163.35,106.57 L163.60,106.01 L163.86,105.86 L164.12,106.06 L164.38,106.53 L164.63,107.25 L164.89,108.20 L165.15,109.36 L165.40,110.71 L165.66,112.22 L165.92,113.87 L166.17,115.64 L166.43,117.51 L166.69,119.46 L166.95,121.46 L167.20,123.49 L167.46,125.53 L167.72,127.56 L167.97,129.56 L168.23,131.50 L168.49,133.36 L168.74,135.12 L169.00,136.76 L169.26,138.25 L169.52,139.58 L169.77,140.72 L170.03,141.65 L170.29,142.35 L170.54,142.79 L170.80,142.96 L171.06,142.95 L171.31,142.92 L171.57,142.86 L171.83,142.79 L172.08,142.70 L172.34,142.61 L172.60,142.50 L172.86,142.39 L173.11,142.28 L173.37,142.17 L173.63,142.06 L173.88,141.96 L174.14,141.87 L174.40,141.79 L174.65,141.73 L174.91,141.68 L175.17,141.66 L175.43,141.66 L175.68,141.68 L175.94,141.71 L176.20,141.76 L176.45,141.82 L176.71,141.90 L176.97,141.98 L177.22,142.06 L177.48,142.15 L177.74,142.24 L178.00,142.33 L178.25,142.41 L178.51,142.49 L178.77,142.56 L179.02,142.63 L179.28,142.69 L179.54,142.74 L179.79,142.78 L180.05,142.82 L180.31,142.85 L180.56,142.87 L180.82,142.89 L181.08,142.91 L181.34,142.92 L181.59,142.93 L181.85,142.94 L182.11,142.95 L182.36,142.95 L182.62,142.95 L182.88,142.96 L183.13,142.96 L183.39,142.96 L183.65,142.96 L183.91,142.96 L184.16,142.96 L184.42,142.96 L184.68,142.96 L184.93,142.96 L185.19,142.96 L185.45,142.96 L185.70,142.96 L185.96,142.96 L186.22,142.96 L186.48,142.96 L186.73,142.96 L186.99,142.96 L187.25,142.96 L187.50,142.96 L187.76,142.96 L188.02,142.96 L188.27,142.96 L188.53,142.96 L188.79,142.96 L189.04,142.96 L189.30,142.96 L189.56,142.96 L189.82,142.96 L190.07,142.96 L190.33,142.96 L190.59,142.96 L190.84,142.96 L191.10,142.96 L191.36,142.96 L191.61,142.96 L191.87,142.96 L192.13,142.96 L192.39,142.96 L192.64,142.96 L192.90,142.96 L193.16,142.96 L193.41,142.96 L193.67,142.96 L193.93,142.96 L194.18,142.96 L194.44,142.96 L194.70,142.96 L194.96,142.96 L195.21,142.96 L195.47,142.96 L195.73,142.96 L195.98,142.96 L196.24,142.96 L196.50,142.96 L196.75,142.96 L197.01,142.96 L197.27,142.96 L197.52,142.96 L197.78,142.96 L198.04,142.96 L198.30,142.96 L198.55,142.96 L198.81,142.96 L199.07,142.96 L199.32,142.96 L199.58,142.96 L199.84,142.96 L200.09,142.96 L200.35,142.96 L200.61,142.96 L200.87,142.96 L201.12,142.96 L201.38,142.96 L201.64,142.96" stroke="#0000f0" stroke-width="2.25" stroke-linejoin="round" fill="none"/></g>
<path d="M137.00,142.96 L137.28,142.96 L137.57,142.96 L137.85,142.96 L138.13,142.96 L138.41,142.96 L138.70,142.96 L138.98,142.96 L139.26,142.96 L139.54,142.96 L139.83,142.96 L140.11,142.96 L140.39,142.96 L140.67,142.96 L140.96,142.96 L141.24,142.96 L141.52,142.96 L141.81,142.96 L142.09,142.96 L142.37,142.96 L142.65,142.96 L142.94,142.96 L143.22,142.96 L143.50,142.96 L143.78,142.96 L144.07,142.96 L144.35,142.96 L144.63,142.96 L144.91,142.96 L145.20,142.96 L145.48,142.96 L145.76,142.96 L146.05,142.96 L146.33,142.96 L146.61,142.96 L146.89,142.96 L147.18,142.96 L147.46,142.96 L147.74,142.96 L148.02,142.96 L148.31,142.96 L148.59,142.96 L148.87,142.96 L149.15,142.96 L149.44,142.96 L149.72,142.96 L150.00,142.96 L150.29,142.96 L150.57,142.96 L150.85,142.96 L151.13,142.96 L151.42,142.96 L151.70,142.96 L151.98,142.96 L152.26,142.96 L152.55,142.96 L152.83,142.96 L153.11,142.96 L153.39,142.96 L153.68,142.96 L153.96,142.96 L154.24,142.96 L154.53,142.96 L154.81,142.96 L155.09,142.96 L155.37,142.96 L155.66,142.96 L155.94,142.96 L156.22,142.96 L156.50,142.95 L156.79,142.95 L157.07,142.95 L157.35,142.95 L157.63,142.94 L157.92,142.94 L158.20,142.93 L158.48,142.92 L158.77,142.91 L159.05,142.90 L159.33,142.88 L159.61,142.86 L159.90,142.83 L160.18,142.80 L160.46,142.76 L160.74,142.71 L161.03,142.64 L161.31,142.56 L161.59,142.47 L161.87,142.35 L162.16,142.22 L162.44,142.05" stroke="#000" stroke-width="0.75" stroke-dasharray="4.0 3.3" stroke-dashoffset="4.43" stroke-opacity="0.55" fill="none"/>
<path d="M162.44,142.05 L162.72,141.85 L163.01,141.61 L163.29,141.34 L163.57,141.01 L163.85,140.63 L164.14,140.18 L164.42,139.67 L164.70,139.07 L164.98,138.40 L165.27,137.62 L165.55,136.75 L165.83,135.77 L166.11,134.67 L166.40,133.45 L166.68,132.11 L166.96,130.63 L167.25,129.02 L167.53,127.28 L167.81,125.41 L168.09,123.42 L168.38,121.31 L168.66,119.09 L168.94,116.79 L169.22,114.42 L169.51,112.01 L169.79,109.57 L170.07,107.15 L170.35,104.76 L170.64,102.46 L170.92,100.27 L171.20,98.23 L171.49,96.39 L171.77,94.79 L172.05,93.46 L172.33,92.44 L172.62,91.76 L172.90,91.45 L173.18,91.54 L173.46,92.04 L173.75,92.95 L174.03,94.28 L174.31,96.02 L174.59,98.15 L174.88,100.65 L175.16,103.47 L175.44,106.57 L175.73,109.90 L176.01,113.39 L176.29,116.98 L176.57,120.60 L176.86,124.17 L177.14,127.61 L177.42,130.86 L177.70,133.85 L177.99,136.49 L178.27,138.75 L178.55,140.56 L178.83,141.88 L179.12,142.69 L179.40,142.96 L179.68,142.69 L179.97,141.88 L180.25,140.56 L180.53,138.75 L180.81,136.49 L181.10,133.85 L181.38,130.86 L181.66,127.61 L181.94,124.17 L182.23,120.60 L182.51,116.98 L182.79,113.39 L183.07,109.90 L183.36,106.57 L183.64,103.47 L183.92,100.65 L184.21,98.15 L184.49,96.02 L184.77,94.28 L185.05,92.95 L185.34,92.04 L185.62,91.54 L185.90,91.45 L186.18,91.76 L186.47,92.44 L186.75,93.46 L187.03,94.79 L187.31,96.39 L187.60,98.23 L187.88,100.27 L188.16,102.46 L188.45,104.76 L188.73,107.15 L189.01,109.57 L189.29,112.01 L189.58,114.42 L189.86,116.79 L190.14,119.09 L190.42,121.31 L190.71,123.42 L190.99,125.41 L191.27,127.28 L191.55,129.02 L191.84,130.63 L192.12,132.11 L192.40,133.45 L192.69,134.67 L192.97,135.77 L193.25,136.75 L193.53,137.62 L193.82,138.40 L194.10,139.07 L194.38,139.67 L194.66,140.18 L194.95,140.63 L195.23,141.01 L195.51,141.34 L195.79,141.61 L196.08,141.85 L196.36,142.05" stroke="#000" stroke-width="0.75" stroke-dasharray="4.0 3.3" stroke-dashoffset="0.81" fill="none"/>
<path d="M196.36,142.05 L196.64,142.22 L196.93,142.35 L197.21,142.47 L197.49,142.56 L197.77,142.64 L198.06,142.71 L198.34,142.76 L198.62,142.80 L198.90,142.83 L199.19,142.86 L199.47,142.88 L199.75,142.90 L200.03,142.91 L200.32,142.92 L200.60,142.93 L200.88,142.94 L201.17,142.94 L201.45,142.95 L201.73,142.95 L202.01,142.95 L202.30,142.95 L202.58,142.96 L202.86,142.96 L203.14,142.96 L203.43,142.96 L203.71,142.96 L203.99,142.96 L204.27,142.96 L204.56,142.96 L204.84,142.96 L205.12,142.96 L205.41,142.96 L205.69,142.96 L205.97,142.96 L206.25,142.96 L206.54,142.96 L206.82,142.96 L207.10,142.96 L207.38,142.96 L207.67,142.96 L207.95,142.96 L208.23,142.96 L208.51,142.96 L208.80,142.96 L209.08,142.96 L209.36,142.96 L209.65,142.96 L209.93,142.96 L210.21,142.96 L210.49,142.96 L210.78,142.96 L211.06,142.96 L211.34,142.96 L211.62,142.96 L211.91,142.96 L212.19,142.96 L212.47,142.96 L212.75,142.96 L213.04,142.96 L213.32,142.96 L213.60,142.96 L213.89,142.96 L214.17,142.96 L214.45,142.96 L214.73,142.96 L215.02,142.96 L215.30,142.96 L215.58,142.96 L215.86,142.96 L216.15,142.96 L216.43,142.96 L216.71,142.96 L216.99,142.96 L217.28,142.96 L217.56,142.96 L217.84,142.96 L218.13,142.96 L218.41,142.96 L218.69,142.96 L218.97,142.96 L219.26,142.96 L219.54,142.96 L219.82,142.96 L220.10,142.96 L220.39,142.96 L220.67,142.96 L220.95,142.96 L221.23,142.96 L221.52,142.96 L221.80,142.96" stroke="#000" stroke-width="0.75" stroke-dasharray="4.0 3.3" stroke-dashoffset="5.58" stroke-opacity="0.55" fill="none"/>
<path d="M252.00,142.96 H336.80 M294.40,142.96 V90.30 h2.4" stroke="#555" stroke-width="0.6" fill="none"/>
<path d="M271.70,142.96 v-1.9 M317.10,142.96 v-1.9 " stroke="#222" stroke-width="0.6" fill="none"/>
<g transform="scale(1.1,1)"><path d="M229.09,142.96 L229.35,142.96 L229.60,142.96 L229.86,142.96 L230.12,142.96 L230.38,142.96 L230.63,142.96 L230.89,142.96 L231.15,142.96 L231.40,142.96 L231.66,142.96 L231.92,142.96 L232.17,142.96 L232.43,142.96 L232.69,142.96 L232.95,142.96 L233.20,142.96 L233.46,142.96 L233.72,142.96 L233.97,142.96 L234.23,142.96 L234.49,142.96 L234.74,142.96 L235.00,142.96 L235.26,142.96 L235.52,142.96 L235.77,142.96 L236.03,142.96 L236.29,142.96 L236.54,142.95 L236.80,142.95 L237.06,142.95 L237.31,142.95 L237.57,142.95 L237.83,142.94 L238.08,142.94 L238.34,142.93 L238.60,142.93 L238.86,142.92 L239.11,142.91 L239.37,142.89 L239.63,142.88 L239.88,142.86 L240.14,142.84 L240.40,142.81 L240.65,142.78 L240.91,142.74 L241.17,142.70 L241.43,142.65 L241.68,142.59 L241.94,142.51 L242.20,142.43 L242.45,142.34 L242.71,142.23 L242.97,142.10 L243.22,141.96 L243.48,141.79 L243.74,141.61 L244.00,141.40 L244.25,141.16 L244.51,140.90 L244.77,140.61 L245.02,140.29 L245.28,139.93 L245.54,139.54 L245.79,139.12 L246.05,138.66 L246.31,138.16 L246.56,137.62 L246.82,137.05 L247.08,136.44 L247.34,135.79 L247.59,135.11 L247.85,134.40 L248.11,133.66 L248.36,132.89 L248.62,132.10 L248.88,131.29 L249.13,130.47 L249.39,129.64 L249.65,128.81 L249.91,127.98 L250.16,127.17 L250.42,126.37 L250.68,125.60 L250.93,124.86 L251.19,124.17 L251.45,123.52 L251.70,122.92 L251.96,122.38 L252.22,121.91 L252.48,121.50 L252.73,121.18 L252.99,120.93 L253.25,120.76 L253.50,120.67 L253.76,120.69 L254.02,120.93 L254.27,121.38 L254.53,122.04 L254.79,122.87 L255.04,123.86 L255.30,124.98 L255.56,126.21 L255.82,127.52 L256.07,128.91 L256.33,130.34 L256.59,131.79 L256.84,133.24 L257.10,134.67 L257.36,136.05 L257.61,137.37 L257.87,138.61 L258.13,139.73 L258.39,140.72 L258.64,141.56 L258.90,142.22 L259.16,142.68 L259.41,142.93 L259.67,142.92 L259.93,142.64 L260.18,142.08 L260.44,141.28 L260.70,140.26 L260.96,139.04 L261.21,137.64 L261.47,136.09 L261.73,134.41 L261.98,132.62 L262.24,130.75 L262.50,128.82 L262.75,126.86 L263.01,124.87 L263.27,122.90 L263.52,120.96 L263.78,119.08 L264.04,117.27 L264.30,115.57 L264.55,113.99 L264.81,112.56 L265.07,111.30 L265.32,110.23 L265.58,109.38 L265.84,108.78 L266.09,108.43 L266.35,108.37 L266.61,108.49 L266.87,108.76 L267.12,109.16 L267.38,109.70 L267.64,110.35 L267.89,111.11 L268.15,111.98 L268.41,112.93 L268.66,113.98 L268.92,115.10 L269.18,116.29 L269.44,117.53 L269.69,118.83 L269.95,120.17 L270.21,121.55 L270.46,122.95 L270.72,124.36 L270.98,125.78 L271.23,127.21 L271.49,128.62 L271.75,130.02 L272.00,131.38 L272.26,132.72 L272.52,134.01 L272.78,135.25 L273.03,136.42 L273.29,137.53 L273.55,138.56 L273.80,139.50 L274.06,140.35 L274.32,141.09 L274.57,141.73 L274.83,142.24 L275.09,142.62 L275.35,142.86 L275.60,142.96 L275.86,142.95 L276.12,142.90 L276.37,142.83 L276.63,142.74 L276.89,142.62 L277.14,142.47 L277.40,142.32 L277.66,142.14 L277.92,141.95 L278.17,141.76 L278.43,141.55 L278.69,141.34 L278.94,141.13 L279.20,140.92 L279.46,140.71 L279.71,140.51 L279.97,140.31 L280.23,140.13 L280.48,139.96 L280.74,139.81 L281.00,139.67 L281.26,139.56 L281.51,139.47 L281.77,139.40 L282.03,139.37 L282.28,139.36 L282.54,139.39 L282.80,139.44 L283.05,139.52 L283.31,139.62 L283.57,139.75 L283.83,139.89 L284.08,140.05 L284.34,140.23 L284.60,140.41 L284.85,140.60 L285.11,140.79 L285.37,140.98 L285.62,141.17 L285.88,141.36 L286.14,141.53 L286.40,141.70 L286.65,141.85 L286.91,142.00 L287.17,142.13 L287.42,142.25 L287.68,142.36 L287.94,142.45 L288.19,142.53 L288.45,142.61 L288.71,142.67 L288.96,142.72 L289.22,142.77 L289.48,142.81 L289.74,142.84 L289.99,142.86 L290.25,142.88 L290.51,142.90 L290.76,142.91 L291.02,142.92 L291.28,142.93 L291.53,142.94 L291.79,142.94 L292.05,142.95 L292.31,142.95 L292.56,142.95 L292.82,142.96 L293.08,142.96 L293.33,142.96 L293.59,142.96 L293.85,142.96 L294.10,142.96 L294.36,142.96 L294.62,142.96 L294.88,142.96 L295.13,142.96 L295.39,142.96 L295.65,142.96 L295.90,142.96 L296.16,142.96 L296.42,142.96 L296.67,142.96 L296.93,142.96 L297.19,142.96 L297.44,142.96 L297.70,142.96 L297.96,142.96 L298.22,142.96 L298.47,142.96 L298.73,142.96 L298.99,142.96 L299.24,142.96 L299.50,142.96 L299.76,142.96 L300.01,142.96 L300.27,142.96 L300.53,142.96 L300.79,142.96 L301.04,142.96 L301.30,142.96 L301.56,142.96 L301.81,142.96 L302.07,142.96 L302.33,142.96 L302.58,142.96 L302.84,142.96 L303.10,142.96 L303.36,142.96 L303.61,142.96 L303.87,142.96 L304.13,142.96 L304.38,142.96 L304.64,142.96 L304.90,142.96 L305.15,142.96 L305.41,142.96 L305.67,142.96 L305.92,142.96 L306.18,142.96" stroke="#0000f0" stroke-width="2.25" stroke-linejoin="round" fill="none"/></g>
<path d="M252.00,142.96 L252.28,142.96 L252.57,142.96 L252.85,142.96 L253.13,142.96 L253.41,142.96 L253.70,142.96 L253.98,142.96 L254.26,142.96 L254.54,142.96 L254.83,142.96 L255.11,142.96 L255.39,142.96 L255.67,142.96 L255.96,142.96 L256.24,142.96 L256.52,142.96 L256.81,142.96 L257.09,142.96 L257.37,142.96 L257.65,142.96 L257.94,142.96 L258.22,142.96 L258.50,142.96 L258.78,142.96 L259.07,142.96 L259.35,142.96 L259.63,142.96 L259.91,142.96 L260.20,142.96 L260.48,142.96 L260.76,142.96 L261.05,142.96 L261.33,142.96 L261.61,142.96 L261.89,142.96 L262.18,142.96 L262.46,142.96 L262.74,142.96 L263.02,142.96 L263.31,142.96 L263.59,142.96 L263.87,142.96 L264.15,142.96 L264.44,142.96 L264.72,142.96 L265.00,142.96 L265.29,142.96 L265.57,142.96 L265.85,142.96 L266.13,142.96 L266.42,142.96 L266.70,142.96 L266.98,142.96 L267.26,142.96 L267.55,142.96 L267.83,142.96 L268.11,142.96 L268.39,142.96 L268.68,142.96 L268.96,142.96 L269.24,142.96 L269.53,142.96 L269.81,142.96 L270.09,142.96 L270.37,142.96 L270.66,142.96 L270.94,142.96 L271.22,142.96 L271.50,142.95 L271.79,142.95 L272.07,142.95 L272.35,142.95 L272.63,142.94 L272.92,142.94 L273.20,142.93 L273.48,142.92 L273.77,142.91 L274.05,142.90 L274.33,142.88 L274.61,142.86 L274.90,142.83 L275.18,142.80 L275.46,142.76 L275.74,142.71 L276.03,142.64 L276.31,142.56 L276.59,142.47 L276.87,142.35 L277.16,142.22 L277.44,142.05" stroke="#000" stroke-width="0.75" stroke-dasharray="4.0 3.3" stroke-dashoffset="4.43" stroke-opacity="0.55" fill="none"/>
<path d="M277.44,142.05 L277.72,141.85 L278.01,141.61 L278.29,141.34 L278.57,141.01 L278.85,140.63 L279.14,140.18 L279.42,139.67 L279.70,139.07 L279.98,138.40 L280.27,137.62 L280.55,136.75 L280.83,135.77 L281.11,134.67 L281.40,133.45 L281.68,132.11 L281.96,130.63 L282.25,129.02 L282.53,127.28 L282.81,125.41 L283.09,123.42 L283.38,121.31 L283.66,119.09 L283.94,116.79 L284.22,114.42 L284.51,112.01 L284.79,109.57 L285.07,107.15 L285.35,104.76 L285.64,102.46 L285.92,100.27 L286.20,98.23 L286.49,96.39 L286.77,94.79 L287.05,93.46 L287.33,92.44 L287.62,91.76 L287.90,91.45 L288.18,91.54 L288.46,92.04 L288.75,92.95 L289.03,94.28 L289.31,96.02 L289.59,98.15 L289.88,100.65 L290.16,103.47 L290.44,106.57 L290.73,109.90 L291.01,113.39 L291.29,116.98 L291.57,120.60 L291.86,124.17 L292.14,127.61 L292.42,130.86 L292.70,133.85 L292.99,136.49 L293.27,138.75 L293.55,140.56 L293.83,141.88 L294.12,142.69 L294.40,142.96 L294.68,142.69 L294.97,141.88 L295.25,140.56 L295.53,138.75 L295.81,136.49 L296.10,133.85 L296.38,130.86 L296.66,127.61 L296.94,124.17 L297.23,120.60 L297.51,116.98 L297.79,113.39 L298.07,109.90 L298.36,106.57 L298.64,103.47 L298.92,100.65 L299.21,98.15 L299.49,96.02 L299.77,94.28 L300.05,92.95 L300.34,92.04 L300.62,91.54 L300.90,91.45 L301.18,91.76 L301.47,92.44 L301.75,93.46 L302.03,94.79 L302.31,96.39 L302.60,98.23 L302.88,100.27 L303.16,102.46 L303.45,104.76 L303.73,107.15 L304.01,109.57 L304.29,112.01 L304.58,114.42 L304.86,116.79 L305.14,119.09 L305.42,121.31 L305.71,123.42 L305.99,125.41 L306.27,127.28 L306.55,129.02 L306.84,130.63 L307.12,132.11 L307.40,133.45 L307.69,134.67 L307.97,135.77 L308.25,136.75 L308.53,137.62 L308.82,138.40 L309.10,139.07 L309.38,139.67 L309.66,140.18 L309.95,140.63 L310.23,141.01 L310.51,141.34 L310.79,141.61 L311.08,141.85 L311.36,142.05" stroke="#000" stroke-width="0.75" stroke-dasharray="4.0 3.3" stroke-dashoffset="0.81" fill="none"/>
<path d="M311.36,142.05 L311.64,142.22 L311.93,142.35 L312.21,142.47 L312.49,142.56 L312.77,142.64 L313.06,142.71 L313.34,142.76 L313.62,142.80 L313.90,142.83 L314.19,142.86 L314.47,142.88 L314.75,142.90 L315.03,142.91 L315.32,142.92 L315.60,142.93 L315.88,142.94 L316.17,142.94 L316.45,142.95 L316.73,142.95 L317.01,142.95 L317.30,142.95 L317.58,142.96 L317.86,142.96 L318.14,142.96 L318.43,142.96 L318.71,142.96 L318.99,142.96 L319.27,142.96 L319.56,142.96 L319.84,142.96 L320.12,142.96 L320.41,142.96 L320.69,142.96 L320.97,142.96 L321.25,142.96 L321.54,142.96 L321.82,142.96 L322.10,142.96 L322.38,142.96 L322.67,142.96 L322.95,142.96 L323.23,142.96 L323.51,142.96 L323.80,142.96 L324.08,142.96 L324.36,142.96 L324.65,142.96 L324.93,142.96 L325.21,142.96 L325.49,142.96 L325.78,142.96 L326.06,142.96 L326.34,142.96 L326.62,142.96 L326.91,142.96 L327.19,142.96 L327.47,142.96 L327.75,142.96 L328.04,142.96 L328.32,142.96 L328.60,142.96 L328.89,142.96 L329.17,142.96 L329.45,142.96 L329.73,142.96 L330.02,142.96 L330.30,142.96 L330.58,142.96 L330.86,142.96 L331.15,142.96 L331.43,142.96 L331.71,142.96 L331.99,142.96 L332.28,142.96 L332.56,142.96 L332.84,142.96 L333.13,142.96 L333.41,142.96 L333.69,142.96 L333.97,142.96 L334.26,142.96 L334.54,142.96 L334.82,142.96 L335.10,142.96 L335.39,142.96 L335.67,142.96 L335.95,142.96 L336.23,142.96 L336.52,142.96 L336.80,142.96" stroke="#000" stroke-width="0.75" stroke-dasharray="4.0 3.3" stroke-dashoffset="5.58" stroke-opacity="0.55" fill="none"/>
<path d="M22.00,222.96 H106.80 M64.40,222.96 V170.30 h2.4" stroke="#555" stroke-width="0.6" fill="none"/>
<path d="M44.25,222.96 v-1.9 M84.55,222.96 v-1.9 " stroke="#222" stroke-width="0.6" fill="none"/>
<g transform="scale(1.1,1)"><path d="M20.00,222.96 L20.26,222.96 L20.51,222.96 L20.77,222.96 L21.03,222.96 L21.28,222.96 L21.54,222.96 L21.80,222.96 L22.06,222.96 L22.31,222.96 L22.57,222.96 L22.83,222.96 L23.08,222.96 L23.34,222.96 L23.60,222.96 L23.85,222.96 L24.11,222.96 L24.37,222.96 L24.63,222.96 L24.88,222.96 L25.14,222.96 L25.40,222.96 L25.65,222.96 L25.91,222.96 L26.17,222.96 L26.42,222.96 L26.68,222.96 L26.94,222.96 L27.20,222.96 L27.45,222.96 L27.71,222.96 L27.97,222.96 L28.22,222.96 L28.48,222.96 L28.74,222.96 L28.99,222.96 L29.25,222.96 L29.51,222.96 L29.76,222.96 L30.02,222.96 L30.28,222.96 L30.54,222.96 L30.79,222.96 L31.05,222.96 L31.31,222.96 L31.56,222.96 L31.82,222.96 L32.08,222.96 L32.33,222.96 L32.59,222.96 L32.85,222.96 L33.11,222.96 L33.36,222.96 L33.62,222.96 L33.88,222.96 L34.13,222.96 L34.39,222.96 L34.65,222.96 L34.90,222.96 L35.16,222.96 L35.42,222.96 L35.68,222.96 L35.93,222.96 L36.19,222.96 L36.45,222.96 L36.70,222.96 L36.96,222.95 L37.22,222.95 L37.47,222.95 L37.73,222.94 L37.99,222.93 L38.24,222.92 L38.50,222.91 L38.76,222.89 L39.02,222.87 L39.27,222.84 L39.53,222.80 L39.79,222.75 L40.04,222.68 L40.30,222.60 L40.56,222.50 L40.81,222.38 L41.07,222.23 L41.33,222.05 L41.59,221.84 L41.84,221.59 L42.10,221.30 L42.36,220.96 L42.61,220.58 L42.87,220.15 L43.13,219.68 L43.38,219.15 L43.64,218.58 L43.90,217.97 L44.16,217.33 L44.41,216.65 L44.67,215.96 L44.93,215.27 L45.18,214.58 L45.44,213.90 L45.70,213.26 L45.95,212.67 L46.21,212.14 L46.47,211.68 L46.72,211.30 L46.98,211.02 L47.24,210.84 L47.50,210.76 L47.75,210.86 L48.01,211.26 L48.27,211.90 L48.52,212.75 L48.78,213.76 L49.04,214.89 L49.29,216.09 L49.55,217.32 L49.81,218.54 L50.07,219.69 L50.32,220.73 L50.58,221.63 L50.84,222.33 L51.09,222.79 L51.35,222.96 L51.61,222.77 L51.86,222.19 L52.12,221.28 L52.38,220.09 L52.64,218.68 L52.89,217.12 L53.15,215.44 L53.41,213.73 L53.66,212.02 L53.92,210.37 L54.18,208.85 L54.43,207.51 L54.69,206.41 L54.95,205.60 L55.20,205.14 L55.46,205.09 L55.72,205.46 L55.98,206.19 L56.23,207.23 L56.49,208.52 L56.75,210.00 L57.00,211.62 L57.26,213.32 L57.52,215.04 L57.77,216.73 L58.03,218.33 L58.29,219.78 L58.55,221.02 L58.80,222.00 L59.06,222.67 L59.32,222.95 L59.57,222.84 L59.83,222.40 L60.09,221.68 L60.34,220.70 L60.60,219.52 L60.86,218.17 L61.12,216.70 L61.37,215.15 L61.63,213.56 L61.89,211.96 L62.14,210.40 L62.40,208.93 L62.66,207.57 L62.91,206.38 L63.17,205.39 L63.43,204.65 L63.68,204.19 L63.94,204.06 L64.20,204.20 L64.46,204.56 L64.71,205.12 L64.97,205.87 L65.23,206.78 L65.48,207.82 L65.74,208.96 L66.00,210.17 L66.25,211.41 L66.51,212.65 L66.77,213.87 L67.03,215.04 L67.28,216.13 L67.54,217.15 L67.80,218.07 L68.05,218.90 L68.31,219.62 L68.57,220.25 L68.82,220.79 L69.08,221.24 L69.34,221.61 L69.60,221.91 L69.85,222.16 L70.11,222.35 L70.37,222.51 L70.62,222.63 L70.88,222.72 L71.14,222.78 L71.39,222.83 L71.65,222.87 L71.91,222.90 L72.16,222.92 L72.42,222.93 L72.68,222.94 L72.94,222.95 L73.19,222.95 L73.45,222.95 L73.71,222.96 L73.96,222.96 L74.22,222.96 L74.48,222.96 L74.73,222.96 L74.99,222.96 L75.25,222.96 L75.51,222.96 L75.76,222.96 L76.02,222.96 L76.28,222.96 L76.53,222.96 L76.79,222.96 L77.05,222.96 L77.30,222.96 L77.56,222.96 L77.82,222.96 L78.08,222.96 L78.33,222.96 L78.59,222.96 L78.85,222.96 L79.10,222.96 L79.36,222.96 L79.62,222.96 L79.87,222.96 L80.13,222.96 L80.39,222.96 L80.64,222.96 L80.90,222.96 L81.16,222.96 L81.42,222.96 L81.67,222.96 L81.93,222.96 L82.19,222.96 L82.44,222.96 L82.70,222.96 L82.96,222.96 L83.21,222.96 L83.47,222.96 L83.73,222.96 L83.99,222.96 L84.24,222.96 L84.50,222.96 L84.76,222.96 L85.01,222.96 L85.27,222.96 L85.53,222.96 L85.78,222.96 L86.04,222.96 L86.30,222.96 L86.56,222.96 L86.81,222.96 L87.07,222.96 L87.33,222.96 L87.58,222.96 L87.84,222.96 L88.10,222.96 L88.35,222.96 L88.61,222.96 L88.87,222.96 L89.12,222.96 L89.38,222.96 L89.64,222.96 L89.90,222.96 L90.15,222.96 L90.41,222.96 L90.67,222.96 L90.92,222.96 L91.18,222.96 L91.44,222.96 L91.69,222.96 L91.95,222.96 L92.21,222.96 L92.47,222.96 L92.72,222.96 L92.98,222.96 L93.24,222.96 L93.49,222.96 L93.75,222.96 L94.01,222.96 L94.26,222.96 L94.52,222.96 L94.78,222.96 L95.04,222.96 L95.29,222.96 L95.55,222.96 L95.81,222.96 L96.06,222.96 L96.32,222.96 L96.58,222.96 L96.83,222.96 L97.09,222.96" stroke="#00a000" stroke-width="2.25" stroke-linejoin="round" fill="none"/></g>
<path d="M22.00,222.96 L22.28,222.96 L22.57,222.96 L22.85,222.96 L23.13,222.96 L23.41,222.96 L23.70,222.96 L23.98,222.96 L24.26,222.96 L24.54,222.96 L24.83,222.96 L25.11,222.96 L25.39,222.96 L25.67,222.96 L25.96,222.96 L26.24,222.96 L26.52,222.96 L26.81,222.96 L27.09,222.96 L27.37,222.96 L27.65,222.96 L27.94,222.96 L28.22,222.96 L28.50,222.96 L28.78,222.96 L29.07,222.96 L29.35,222.96 L29.63,222.96 L29.91,222.96 L30.20,222.96 L30.48,222.96 L30.76,222.96 L31.05,222.96 L31.33,222.96 L31.61,222.96 L31.89,222.96 L32.18,222.96 L32.46,222.96 L32.74,222.96 L33.02,222.96 L33.31,222.96 L33.59,222.96 L33.87,222.96 L34.15,222.96 L34.44,222.96 L34.72,222.96 L35.00,222.96 L35.29,222.96 L35.57,222.96 L35.85,222.96 L36.13,222.96 L36.42,222.96 L36.70,222.96 L36.98,222.96 L37.26,222.96 L37.55,222.96 L37.83,222.96 L38.11,222.96 L38.39,222.96 L38.68,222.96 L38.96,222.96 L39.24,222.96 L39.53,222.96 L39.81,222.96 L40.09,222.96 L40.37,222.96 L40.66,222.96 L40.94,222.96 L41.22,222.96 L41.50,222.96 L41.79,222.96 L42.07,222.95 L42.35,222.95 L42.63,222.95 L42.92,222.94 L43.20,222.94 L43.48,222.93 L43.77,222.91 L44.05,222.90 L44.33,222.88 L44.61,222.85 L44.90,222.82 L45.18,222.77 L45.46,222.71 L45.74,222.64 L46.03,222.54 L46.31,222.42 L46.59,222.27 L46.87,222.08 L47.16,221.85" stroke="#000" stroke-width="0.75" stroke-dasharray="4.5 4.0" stroke-dashoffset="2.00" stroke-opacity="0.55" fill="none"/>
<path d="M47.16,221.85 L47.44,221.57 L47.72,221.22 L48.01,220.80 L48.29,220.30 L48.57,219.71 L48.85,219.00 L49.14,218.18 L49.42,217.22 L49.70,216.11 L49.98,214.85 L50.27,213.42 L50.55,211.82 L50.83,210.03 L51.11,208.07 L51.40,205.94 L51.68,203.65 L51.96,201.22 L52.25,198.66 L52.53,196.03 L52.81,193.35 L53.09,190.67 L53.38,188.05 L53.66,185.56 L53.94,183.26 L54.22,181.21 L54.51,179.50 L54.79,178.18 L55.07,177.32 L55.35,176.98 L55.64,177.20 L55.92,178.00 L56.20,179.41 L56.49,181.41 L56.77,183.98 L57.05,187.05 L57.33,190.56 L57.62,194.41 L57.90,198.49 L58.18,202.65 L58.46,206.77 L58.75,210.70 L59.03,214.28 L59.31,217.39 L59.59,219.90 L59.88,221.70 L60.16,222.73 L60.44,222.93 L60.73,222.30 L61.01,220.87 L61.29,218.70 L61.57,215.89 L61.86,212.58 L62.14,208.92 L62.42,205.08 L62.70,201.26 L62.99,197.64 L63.27,194.39 L63.55,191.68 L63.83,189.64 L64.12,188.38 L64.40,187.95 L64.68,188.38 L64.97,189.64 L65.25,191.68 L65.53,194.39 L65.81,197.64 L66.10,201.26 L66.38,205.08 L66.66,208.92 L66.94,212.58 L67.23,215.89 L67.51,218.70 L67.79,220.87 L68.07,222.30 L68.36,222.93 L68.64,222.73 L68.92,221.70 L69.21,219.90 L69.49,217.39 L69.77,214.28 L70.05,210.70 L70.34,206.77 L70.62,202.65 L70.90,198.49 L71.18,194.41 L71.47,190.56 L71.75,187.05 L72.03,183.98 L72.31,181.41 L72.60,179.41 L72.88,178.00 L73.16,177.20 L73.45,176.98 L73.73,177.32 L74.01,178.18 L74.29,179.50 L74.58,181.21 L74.86,183.26 L75.14,185.56 L75.42,188.05 L75.71,190.67 L75.99,193.35 L76.27,196.03 L76.55,198.66 L76.84,201.22 L77.12,203.65 L77.40,205.94 L77.69,208.07 L77.97,210.03 L78.25,211.82 L78.53,213.42 L78.82,214.85 L79.10,216.11 L79.38,217.22 L79.66,218.18 L79.95,219.00 L80.23,219.71 L80.51,220.30 L80.79,220.80 L81.08,221.22 L81.36,221.57 L81.64,221.85" stroke="#000" stroke-width="0.75" stroke-dasharray="4.5 4.0" stroke-dashoffset="1.90" fill="none"/>
<path d="M81.64,221.85 L81.93,222.08 L82.21,222.27 L82.49,222.42 L82.77,222.54 L83.06,222.64 L83.34,222.71 L83.62,222.77 L83.90,222.82 L84.19,222.85 L84.47,222.88 L84.75,222.90 L85.03,222.91 L85.32,222.93 L85.60,222.94 L85.88,222.94 L86.17,222.95 L86.45,222.95 L86.73,222.95 L87.01,222.96 L87.30,222.96 L87.58,222.96 L87.86,222.96 L88.14,222.96 L88.43,222.96 L88.71,222.96 L88.99,222.96 L89.27,222.96 L89.56,222.96 L89.84,222.96 L90.12,222.96 L90.41,222.96 L90.69,222.96 L90.97,222.96 L91.25,222.96 L91.54,222.96 L91.82,222.96 L92.10,222.96 L92.38,222.96 L92.67,222.96 L92.95,222.96 L93.23,222.96 L93.51,222.96 L93.80,222.96 L94.08,222.96 L94.36,222.96 L94.65,222.96 L94.93,222.96 L95.21,222.96 L95.49,222.96 L95.78,222.96 L96.06,222.96 L96.34,222.96 L96.62,222.96 L96.91,222.96 L97.19,222.96 L97.47,222.96 L97.75,222.96 L98.04,222.96 L98.32,222.96 L98.60,222.96 L98.89,222.96 L99.17,222.96 L99.45,222.96 L99.73,222.96 L100.02,222.96 L100.30,222.96 L100.58,222.96 L100.86,222.96 L101.15,222.96 L101.43,222.96 L101.71,222.96 L101.99,222.96 L102.28,222.96 L102.56,222.96 L102.84,222.96 L103.13,222.96 L103.41,222.96 L103.69,222.96 L103.97,222.96 L104.26,222.96 L104.54,222.96 L104.82,222.96 L105.10,222.96 L105.39,222.96 L105.67,222.96 L105.95,222.96 L106.23,222.96 L106.52,222.96 L106.80,222.96" stroke="#000" stroke-width="0.75" stroke-dasharray="4.5 4.0" stroke-dashoffset="2.60" stroke-opacity="0.55" fill="none"/>
<path d="M137.00,222.96 H221.80 M179.40,222.96 V170.30 h2.4" stroke="#555" stroke-width="0.6" fill="none"/>
<path d="M159.25,222.96 v-1.9 M199.55,222.96 v-1.9 " stroke="#222" stroke-width="0.6" fill="none"/>
<g transform="scale(1.1,1)"><path d="M124.55,222.96 L124.80,222.96 L125.06,222.96 L125.32,222.96 L125.57,222.96 L125.83,222.96 L126.09,222.96 L126.34,222.96 L126.60,222.96 L126.86,222.96 L127.12,222.96 L127.37,222.96 L127.63,222.96 L127.89,222.96 L128.14,222.96 L128.40,222.96 L128.66,222.96 L128.91,222.96 L129.17,222.96 L129.43,222.96 L129.68,222.96 L129.94,222.96 L130.20,222.96 L130.46,222.96 L130.71,222.96 L130.97,222.96 L131.23,222.96 L131.48,222.96 L131.74,222.96 L132.00,222.96 L132.25,222.96 L132.51,222.96 L132.77,222.96 L133.03,222.96 L133.28,222.96 L133.54,222.96 L133.80,222.96 L134.05,222.96 L134.31,222.96 L134.57,222.96 L134.82,222.96 L135.08,222.96 L135.34,222.96 L135.60,222.96 L135.85,222.96 L136.11,222.96 L136.37,222.96 L136.62,222.96 L136.88,222.96 L137.14,222.96 L137.39,222.96 L137.65,222.96 L137.91,222.96 L138.16,222.96 L138.42,222.96 L138.68,222.96 L138.94,222.96 L139.19,222.96 L139.45,222.96 L139.71,222.96 L139.96,222.96 L140.22,222.96 L140.48,222.96 L140.73,222.96 L140.99,222.95 L141.25,222.95 L141.51,222.95 L141.76,222.94 L142.02,222.93 L142.28,222.92 L142.53,222.91 L142.79,222.89 L143.05,222.86 L143.30,222.83 L143.56,222.79 L143.82,222.73 L144.08,222.66 L144.33,222.57 L144.59,222.46 L144.85,222.33 L145.10,222.16 L145.36,221.96 L145.62,221.72 L145.87,221.43 L146.13,221.10 L146.39,220.71 L146.64,220.26 L146.90,219.76 L147.16,219.20 L147.42,218.57 L147.67,217.89 L147.93,217.16 L148.19,216.37 L148.44,215.55 L148.70,214.69 L148.96,213.82 L149.21,212.95 L149.47,212.09 L149.73,211.26 L149.99,210.48 L150.24,209.77 L150.50,209.13 L150.76,208.60 L151.01,208.18 L151.27,207.87 L151.53,207.70 L151.78,207.67 L152.04,207.91 L152.30,208.44 L152.56,209.22 L152.81,210.21 L153.07,211.37 L153.33,212.66 L153.58,214.02 L153.84,215.43 L154.10,216.83 L154.35,218.19 L154.61,219.45 L154.87,220.59 L155.12,221.55 L155.38,222.29 L155.64,222.78 L155.90,222.96 L156.15,222.67 L156.41,221.81 L156.67,220.45 L156.92,218.68 L157.18,216.58 L157.44,214.24 L157.69,211.75 L157.95,209.19 L158.21,206.63 L158.47,204.18 L158.72,201.92 L158.98,199.92 L159.24,198.27 L159.49,197.07 L159.75,196.38 L160.01,196.31 L160.26,196.85 L160.52,197.94 L160.78,199.49 L161.04,201.42 L161.29,203.63 L161.55,206.04 L161.81,208.58 L162.06,211.15 L162.32,213.67 L162.58,216.05 L162.83,218.21 L163.09,220.07 L163.35,221.53 L163.60,222.52 L163.86,222.95 L164.12,222.75 L164.38,221.95 L164.63,220.63 L164.89,218.88 L165.15,216.78 L165.40,214.41 L165.66,211.85 L165.92,209.18 L166.17,206.48 L166.43,203.84 L166.69,201.34 L166.95,199.05 L167.20,197.07 L167.46,195.46 L167.72,194.32 L167.97,193.73 L168.23,193.72 L168.49,194.12 L168.74,194.86 L169.00,195.91 L169.26,197.22 L169.52,198.76 L169.77,200.49 L170.03,202.37 L170.29,204.37 L170.54,206.43 L170.80,208.53 L171.06,210.63 L171.31,212.68 L171.57,214.66 L171.83,216.51 L172.08,218.20 L172.34,219.70 L172.60,220.96 L172.86,221.95 L173.11,222.62 L173.37,222.94 L173.63,222.95 L173.88,222.89 L174.14,222.80 L174.40,222.68 L174.65,222.55 L174.91,222.41 L175.17,222.27 L175.43,222.15 L175.68,222.05 L175.94,221.98 L176.20,221.96 L176.45,221.98 L176.71,222.03 L176.97,222.11 L177.22,222.21 L177.48,222.32 L177.74,222.44 L178.00,222.55 L178.25,222.64 L178.51,222.73 L178.77,222.79 L179.02,222.85 L179.28,222.88 L179.54,222.91 L179.79,222.93 L180.05,222.94 L180.31,222.95 L180.56,222.95 L180.82,222.96 L181.08,222.96 L181.34,222.96 L181.59,222.96 L181.85,222.96 L182.11,222.96 L182.36,222.96 L182.62,222.96 L182.88,222.96 L183.13,222.96 L183.39,222.96 L183.65,222.96 L183.91,222.96 L184.16,222.96 L184.42,222.96 L184.68,222.96 L184.93,222.96 L185.19,222.96 L185.45,222.96 L185.70,222.96 L185.96,222.96 L186.22,222.96 L186.48,222.96 L186.73,222.96 L186.99,222.96 L187.25,222.96 L187.50,222.96 L187.76,222.96 L188.02,222.96 L188.27,222.96 L188.53,222.96 L188.79,222.96 L189.04,222.96 L189.30,222.96 L189.56,222.96 L189.82,222.96 L190.07,222.96 L190.33,222.96 L190.59,222.96 L190.84,222.96 L191.10,222.96 L191.36,222.96 L191.61,222.96 L191.87,222.96 L192.13,222.96 L192.39,222.96 L192.64,222.96 L192.90,222.96 L193.16,222.96 L193.41,222.96 L193.67,222.96 L193.93,222.96 L194.18,222.96 L194.44,222.96 L194.70,222.96 L194.96,222.96 L195.21,222.96 L195.47,222.96 L195.73,222.96 L195.98,222.96 L196.24,222.96 L196.50,222.96 L196.75,222.96 L197.01,222.96 L197.27,222.96 L197.52,222.96 L197.78,222.96 L198.04,222.96 L198.30,222.96 L198.55,222.96 L198.81,222.96 L199.07,222.96 L199.32,222.96 L199.58,222.96 L199.84,222.96 L200.09,222.96 L200.35,222.96 L200.61,222.96 L200.87,222.96 L201.12,222.96 L201.38,222.96 L201.64,222.96" stroke="#00a000" stroke-width="2.25" stroke-linejoin="round" fill="none"/></g>
<path d="M137.00,222.96 L137.28,222.96 L137.57,222.96 L137.85,222.96 L138.13,222.96 L138.41,222.96 L138.70,222.96 L138.98,222.96 L139.26,222.96 L139.54,222.96 L139.83,222.96 L140.11,222.96 L140.39,222.96 L140.67,222.96 L140.96,222.96 L141.24,222.96 L141.52,222.96 L141.81,222.96 L142.09,222.96 L142.37,222.96 L142.65,222.96 L142.94,222.96 L143.22,222.96 L143.50,222.96 L143.78,222.96 L144.07,222.96 L144.35,222.96 L144.63,222.96 L144.91,222.96 L145.20,222.96 L145.48,222.96 L145.76,222.96 L146.05,222.96 L146.33,222.96 L146.61,222.96 L146.89,222.96 L147.18,222.96 L147.46,222.96 L147.74,222.96 L148.02,222.96 L148.31,222.96 L148.59,222.96 L148.87,222.96 L149.15,222.96 L149.44,222.96 L149.72,222.96 L150.00,222.96 L150.29,222.96 L150.57,222.96 L150.85,222.96 L151.13,222.96 L151.42,222.96 L151.70,222.96 L151.98,222.96 L152.26,222.96 L152.55,222.96 L152.83,222.96 L153.11,222.96 L153.39,222.96 L153.68,222.96 L153.96,222.96 L154.24,222.96 L154.53,222.96 L154.81,222.96 L155.09,222.96 L155.37,222.96 L155.66,222.96 L155.94,222.96 L156.22,222.96 L156.50,222.96 L156.79,222.96 L157.07,222.95 L157.35,222.95 L157.63,222.95 L157.92,222.94 L158.20,222.94 L158.48,222.93 L158.77,222.91 L159.05,222.90 L159.33,222.88 L159.61,222.85 L159.90,222.82 L160.18,222.77 L160.46,222.71 L160.74,222.64 L161.03,222.54 L161.31,222.42 L161.59,222.27 L161.87,222.08 L162.16,221.85" stroke="#000" stroke-width="0.75" stroke-dasharray="4.5 4.0" stroke-dashoffset="2.00" stroke-opacity="0.55" fill="none"/>
<path d="M162.16,221.85 L162.44,221.57 L162.72,221.22 L163.01,220.80 L163.29,220.30 L163.57,219.71 L163.85,219.00 L164.14,218.18 L164.42,217.22 L164.70,216.11 L164.98,214.85 L165.27,213.42 L165.55,211.82 L165.83,210.03 L166.11,208.07 L166.40,205.94 L166.68,203.65 L166.96,201.22 L167.25,198.66 L167.53,196.03 L167.81,193.35 L168.09,190.67 L168.38,188.05 L168.66,185.56 L168.94,183.26 L169.22,181.21 L169.51,179.50 L169.79,178.18 L170.07,177.32 L170.35,176.98 L170.64,177.20 L170.92,178.00 L171.20,179.41 L171.49,181.41 L171.77,183.98 L172.05,187.05 L172.33,190.56 L172.62,194.41 L172.90,198.49 L173.18,202.65 L173.46,206.77 L173.75,210.70 L174.03,214.28 L174.31,217.39 L174.59,219.90 L174.88,221.70 L175.16,222.73 L175.44,222.93 L175.73,222.30 L176.01,220.87 L176.29,218.70 L176.57,215.89 L176.86,212.58 L177.14,208.92 L177.42,205.08 L177.70,201.26 L177.99,197.64 L178.27,194.39 L178.55,191.68 L178.83,189.64 L179.12,188.38 L179.40,187.95 L179.68,188.38 L179.97,189.64 L180.25,191.68 L180.53,194.39 L180.81,197.64 L181.10,201.26 L181.38,205.08 L181.66,208.92 L181.94,212.58 L182.23,215.89 L182.51,218.70 L182.79,220.87 L183.07,222.30 L183.36,222.93 L183.64,222.73 L183.92,221.70 L184.21,219.90 L184.49,217.39 L184.77,214.28 L185.05,210.70 L185.34,206.77 L185.62,202.65 L185.90,198.49 L186.18,194.41 L186.47,190.56 L186.75,187.05 L187.03,183.98 L187.31,181.41 L187.60,179.41 L187.88,178.00 L188.16,177.20 L188.45,176.98 L188.73,177.32 L189.01,178.18 L189.29,179.50 L189.58,181.21 L189.86,183.26 L190.14,185.56 L190.42,188.05 L190.71,190.67 L190.99,193.35 L191.27,196.03 L191.55,198.66 L191.84,201.22 L192.12,203.65 L192.40,205.94 L192.69,208.07 L192.97,210.03 L193.25,211.82 L193.53,213.42 L193.82,214.85 L194.10,216.11 L194.38,217.22 L194.66,218.18 L194.95,219.00 L195.23,219.71 L195.51,220.30 L195.79,220.80 L196.08,221.22 L196.36,221.57 L196.64,221.85" stroke="#000" stroke-width="0.75" stroke-dasharray="4.5 4.0" stroke-dashoffset="1.90" fill="none"/>
<path d="M196.64,221.85 L196.93,222.08 L197.21,222.27 L197.49,222.42 L197.77,222.54 L198.06,222.64 L198.34,222.71 L198.62,222.77 L198.90,222.82 L199.19,222.85 L199.47,222.88 L199.75,222.90 L200.03,222.91 L200.32,222.93 L200.60,222.94 L200.88,222.94 L201.17,222.95 L201.45,222.95 L201.73,222.95 L202.01,222.96 L202.30,222.96 L202.58,222.96 L202.86,222.96 L203.14,222.96 L203.43,222.96 L203.71,222.96 L203.99,222.96 L204.27,222.96 L204.56,222.96 L204.84,222.96 L205.12,222.96 L205.41,222.96 L205.69,222.96 L205.97,222.96 L206.25,222.96 L206.54,222.96 L206.82,222.96 L207.10,222.96 L207.38,222.96 L207.67,222.96 L207.95,222.96 L208.23,222.96 L208.51,222.96 L208.80,222.96 L209.08,222.96 L209.36,222.96 L209.65,222.96 L209.93,222.96 L210.21,222.96 L210.49,222.96 L210.78,222.96 L211.06,222.96 L211.34,222.96 L211.62,222.96 L211.91,222.96 L212.19,222.96 L212.47,222.96 L212.75,222.96 L213.04,222.96 L213.32,222.96 L213.60,222.96 L213.89,222.96 L214.17,222.96 L214.45,222.96 L214.73,222.96 L215.02,222.96 L215.30,222.96 L215.58,222.96 L215.86,222.96 L216.15,222.96 L216.43,222.96 L216.71,222.96 L216.99,222.96 L217.28,222.96 L217.56,222.96 L217.84,222.96 L218.13,222.96 L218.41,222.96 L218.69,222.96 L218.97,222.96 L219.26,222.96 L219.54,222.96 L219.82,222.96 L220.10,222.96 L220.39,222.96 L220.67,222.96 L220.95,222.96 L221.23,222.96 L221.52,222.96 L221.80,222.96" stroke="#000" stroke-width="0.75" stroke-dasharray="4.5 4.0" stroke-dashoffset="2.60" stroke-opacity="0.55" fill="none"/>
<path d="M252.00,222.96 H336.80 M294.40,222.96 V170.30 h2.4" stroke="#555" stroke-width="0.6" fill="none"/>
<path d="M274.25,222.96 v-1.9 M314.55,222.96 v-1.9 " stroke="#222" stroke-width="0.6" fill="none"/>
<g transform="scale(1.1,1)"><path d="M229.09,222.96 L229.35,222.96 L229.60,222.96 L229.86,222.96 L230.12,222.96 L230.38,222.96 L230.63,222.96 L230.89,222.96 L231.15,222.96 L231.40,222.96 L231.66,222.96 L231.92,222.96 L232.17,222.96 L232.43,222.96 L232.69,222.96 L232.95,222.96 L233.20,222.96 L233.46,222.96 L233.72,222.96 L233.97,222.96 L234.23,222.96 L234.49,222.96 L234.74,222.96 L235.00,222.96 L235.26,222.96 L235.52,222.96 L235.77,222.96 L236.03,222.96 L236.29,222.96 L236.54,222.96 L236.80,222.96 L237.06,222.96 L237.31,222.96 L237.57,222.96 L237.83,222.96 L238.08,222.96 L238.34,222.96 L238.60,222.96 L238.86,222.96 L239.11,222.96 L239.37,222.96 L239.63,222.96 L239.88,222.96 L240.14,222.96 L240.40,222.96 L240.65,222.96 L240.91,222.96 L241.17,222.96 L241.43,222.96 L241.68,222.96 L241.94,222.96 L242.20,222.96 L242.45,222.96 L242.71,222.96 L242.97,222.96 L243.22,222.96 L243.48,222.96 L243.74,222.95 L244.00,222.95 L244.25,222.95 L244.51,222.94 L244.77,222.94 L245.02,222.93 L245.28,222.92 L245.54,222.90 L245.79,222.88 L246.05,222.86 L246.31,222.82 L246.56,222.78 L246.82,222.73 L247.08,222.66 L247.34,222.58 L247.59,222.47 L247.85,222.34 L248.11,222.19 L248.36,222.00 L248.62,221.78 L248.88,221.52 L249.13,221.21 L249.39,220.86 L249.65,220.45 L249.91,219.98 L250.16,219.46 L250.42,218.88 L250.68,218.24 L250.93,217.53 L251.19,216.78 L251.45,215.97 L251.70,215.12 L251.96,214.23 L252.22,213.32 L252.48,212.39 L252.73,211.47 L252.99,210.56 L253.25,209.69 L253.50,208.86 L253.76,208.10 L254.02,207.42 L254.27,206.83 L254.53,206.35 L254.79,206.00 L255.04,205.76 L255.30,205.66 L255.56,205.75 L255.82,206.14 L256.07,206.79 L256.33,207.67 L256.59,208.74 L256.84,209.97 L257.10,211.31 L257.36,212.73 L257.61,214.19 L257.87,215.65 L258.13,217.08 L258.39,218.43 L258.64,219.68 L258.90,220.78 L259.16,221.69 L259.41,222.39 L259.67,222.82 L259.93,222.96 L260.18,222.52 L260.44,221.40 L260.70,219.70 L260.96,217.51 L261.21,214.94 L261.47,212.09 L261.73,209.06 L261.98,205.97 L262.24,202.90 L262.50,199.97 L262.75,197.27 L263.01,194.90 L263.27,192.98 L263.52,191.59 L263.78,190.86 L264.04,190.84 L264.30,191.42 L264.55,192.51 L264.81,194.05 L265.07,195.96 L265.32,198.17 L265.58,200.62 L265.84,203.23 L266.09,205.93 L266.35,208.66 L266.61,211.34 L266.87,213.91 L267.12,216.28 L267.38,218.41 L267.64,220.21 L267.89,221.61 L268.15,222.55 L268.41,222.95 L268.66,222.65 L268.92,221.51 L269.18,219.65 L269.44,217.19 L269.69,214.26 L269.95,211.00 L270.21,207.53 L270.46,203.99 L270.72,200.49 L270.98,197.17 L271.23,194.16 L271.49,191.58 L271.75,189.57 L272.00,188.26 L272.26,187.76 L272.52,187.98 L272.78,188.63 L273.03,189.68 L273.29,191.08 L273.55,192.77 L273.80,194.73 L274.06,196.89 L274.32,199.21 L274.57,201.64 L274.83,204.15 L275.09,206.68 L275.35,209.18 L275.60,211.61 L275.86,213.93 L276.12,216.08 L276.37,218.02 L276.63,219.71 L276.89,221.09 L277.14,222.13 L277.40,222.76 L277.66,222.96 L277.92,222.93 L278.17,222.86 L278.43,222.75 L278.69,222.62 L278.94,222.46 L279.20,222.29 L279.46,222.11 L279.71,221.93 L279.97,221.76 L280.23,221.60 L280.48,221.46 L280.74,221.36 L281.00,221.29 L281.26,221.26 L281.51,221.28 L281.77,221.34 L282.03,221.43 L282.28,221.56 L282.54,221.70 L282.80,221.86 L283.05,222.02 L283.31,222.18 L283.57,222.32 L283.83,222.46 L284.08,222.57 L284.34,222.67 L284.60,222.74 L284.85,222.80 L285.11,222.85 L285.37,222.89 L285.62,222.91 L285.88,222.93 L286.14,222.94 L286.40,222.95 L286.65,222.95 L286.91,222.96 L287.17,222.96 L287.42,222.96 L287.68,222.96 L287.94,222.96 L288.19,222.96 L288.45,222.96 L288.71,222.96 L288.96,222.96 L289.22,222.96 L289.48,222.96 L289.74,222.96 L289.99,222.96 L290.25,222.96 L290.51,222.96 L290.76,222.96 L291.02,222.96 L291.28,222.96 L291.53,222.96 L291.79,222.96 L292.05,222.96 L292.31,222.96 L292.56,222.96 L292.82,222.96 L293.08,222.96 L293.33,222.96 L293.59,222.96 L293.85,222.96 L294.10,222.96 L294.36,222.96 L294.62,222.96 L294.88,222.96 L295.13,222.96 L295.39,222.96 L295.65,222.96 L295.90,222.96 L296.16,222.96 L296.42,222.96 L296.67,222.96 L296.93,222.96 L297.19,222.96 L297.44,222.96 L297.70,222.96 L297.96,222.96 L298.22,222.96 L298.47,222.96 L298.73,222.96 L298.99,222.96 L299.24,222.96 L299.50,222.96 L299.76,222.96 L300.01,222.96 L300.27,222.96 L300.53,222.96 L300.79,222.96 L301.04,222.96 L301.30,222.96 L301.56,222.96 L301.81,222.96 L302.07,222.96 L302.33,222.96 L302.58,222.96 L302.84,222.96 L303.10,222.96 L303.36,222.96 L303.61,222.96 L303.87,222.96 L304.13,222.96 L304.38,222.96 L304.64,222.96 L304.90,222.96 L305.15,222.96 L305.41,222.96 L305.67,222.96 L305.92,222.96 L306.18,222.96" stroke="#00a000" stroke-width="2.25" stroke-linejoin="round" fill="none"/></g>
<path d="M252.00,222.96 L252.28,222.96 L252.57,222.96 L252.85,222.96 L253.13,222.96 L253.41,222.96 L253.70,222.96 L253.98,222.96 L254.26,222.96 L254.54,222.96 L254.83,222.96 L255.11,222.96 L255.39,222.96 L255.67,222.96 L255.96,222.96 L256.24,222.96 L256.52,222.96 L256.81,222.96 L257.09,222.96 L257.37,222.96 L257.65,222.96 L257.94,222.96 L258.22,222.96 L258.50,222.96 L258.78,222.96 L259.07,222.96 L259.35,222.96 L259.63,222.96 L259.91,222.96 L260.20,222.96 L260.48,222.96 L260.76,222.96 L261.05,222.96 L261.33,222.96 L261.61,222.96 L261.89,222.96 L262.18,222.96 L262.46,222.96 L262.74,222.96 L263.02,222.96 L263.31,222.96 L263.59,222.96 L263.87,222.96 L264.15,222.96 L264.44,222.96 L264.72,222.96 L265.00,222.96 L265.29,222.96 L265.57,222.96 L265.85,222.96 L266.13,222.96 L266.42,222.96 L266.70,222.96 L266.98,222.96 L267.26,222.96 L267.55,222.96 L267.83,222.96 L268.11,222.96 L268.39,222.96 L268.68,222.96 L268.96,222.96 L269.24,222.96 L269.53,222.96 L269.81,222.96 L270.09,222.96 L270.37,222.96 L270.66,222.96 L270.94,222.96 L271.22,222.96 L271.50,222.96 L271.79,222.96 L272.07,222.95 L272.35,222.95 L272.63,222.95 L272.92,222.94 L273.20,222.94 L273.48,222.93 L273.77,222.91 L274.05,222.90 L274.33,222.88 L274.61,222.85 L274.90,222.82 L275.18,222.77 L275.46,222.71 L275.74,222.64 L276.03,222.54 L276.31,222.42 L276.59,222.27 L276.87,222.08 L277.16,221.85" stroke="#000" stroke-width="0.75" stroke-dasharray="4.5 4.0" stroke-dashoffset="2.00" stroke-opacity="0.55" fill="none"/>
<path d="M277.16,221.85 L277.44,221.57 L277.72,221.22 L278.01,220.80 L278.29,220.30 L278.57,219.71 L278.85,219.00 L279.14,218.18 L279.42,217.22 L279.70,216.11 L279.98,214.85 L280.27,213.42 L280.55,211.82 L280.83,210.03 L281.11,208.07 L281.40,205.94 L281.68,203.65 L281.96,201.22 L282.25,198.66 L282.53,196.03 L282.81,193.35 L283.09,190.67 L283.38,188.05 L283.66,185.56 L283.94,183.26 L284.22,181.21 L284.51,179.50 L284.79,178.18 L285.07,177.32 L285.35,176.98 L285.64,177.20 L285.92,178.00 L286.20,179.41 L286.49,181.41 L286.77,183.98 L287.05,187.05 L287.33,190.56 L287.62,194.41 L287.90,198.49 L288.18,202.65 L288.46,206.77 L288.75,210.70 L289.03,214.28 L289.31,217.39 L289.59,219.90 L289.88,221.70 L290.16,222.73 L290.44,222.93 L290.73,222.30 L291.01,220.87 L291.29,218.70 L291.57,215.89 L291.86,212.58 L292.14,208.92 L292.42,205.08 L292.70,201.26 L292.99,197.64 L293.27,194.39 L293.55,191.68 L293.83,189.64 L294.12,188.38 L294.40,187.95 L294.68,188.38 L294.97,189.64 L295.25,191.68 L295.53,194.39 L295.81,197.64 L296.10,201.26 L296.38,205.08 L296.66,208.92 L296.94,212.58 L297.23,215.89 L297.51,218.70 L297.79,220.87 L298.07,222.30 L298.36,222.93 L298.64,222.73 L298.92,221.70 L299.21,219.90 L299.49,217.39 L299.77,214.28 L300.05,210.70 L300.34,206.77 L300.62,202.65 L300.90,198.49 L301.18,194.41 L301.47,190.56 L301.75,187.05 L302.03,183.98 L302.31,181.41 L302.60,179.41 L302.88,178.00 L303.16,177.20 L303.45,176.98 L303.73,177.32 L304.01,178.18 L304.29,179.50 L304.58,181.21 L304.86,183.26 L305.14,185.56 L305.42,188.05 L305.71,190.67 L305.99,193.35 L306.27,196.03 L306.55,198.66 L306.84,201.22 L307.12,203.65 L307.40,205.94 L307.69,208.07 L307.97,210.03 L308.25,211.82 L308.53,213.42 L308.82,214.85 L309.10,216.11 L309.38,217.22 L309.66,218.18 L309.95,219.00 L310.23,219.71 L310.51,220.30 L310.79,220.80 L311.08,221.22 L311.36,221.57 L311.64,221.85" stroke="#000" stroke-width="0.75" stroke-dasharray="4.5 4.0" stroke-dashoffset="1.90" fill="none"/>
<path d="M311.64,221.85 L311.93,222.08 L312.21,222.27 L312.49,222.42 L312.77,222.54 L313.06,222.64 L313.34,222.71 L313.62,222.77 L313.90,222.82 L314.19,222.85 L314.47,222.88 L314.75,222.90 L315.03,222.91 L315.32,222.93 L315.60,222.94 L315.88,222.94 L316.17,222.95 L316.45,222.95 L316.73,222.95 L317.01,222.96 L317.30,222.96 L317.58,222.96 L317.86,222.96 L318.14,222.96 L318.43,222.96 L318.71,222.96 L318.99,222.96 L319.27,222.96 L319.56,222.96 L319.84,222.96 L320.12,222.96 L320.41,222.96 L320.69,222.96 L320.97,222.96 L321.25,222.96 L321.54,222.96 L321.82,222.96 L322.10,222.96 L322.38,222.96 L322.67,222.96 L322.95,222.96 L323.23,222.96 L323.51,222.96 L323.80,222.96 L324.08,222.96 L324.36,222.96 L324.65,222.96 L324.93,222.96 L325.21,222.96 L325.49,222.96 L325.78,222.96 L326.06,222.96 L326.34,222.96 L326.62,222.96 L326.91,222.96 L327.19,222.96 L327.47,222.96 L327.75,222.96 L328.04,222.96 L328.32,222.96 L328.60,222.96 L328.89,222.96 L329.17,222.96 L329.45,222.96 L329.73,222.96 L330.02,222.96 L330.30,222.96 L330.58,222.96 L330.86,222.96 L331.15,222.96 L331.43,222.96 L331.71,222.96 L331.99,222.96 L332.28,222.96 L332.56,222.96 L332.84,222.96 L333.13,222.96 L333.41,222.96 L333.69,222.96 L333.97,222.96 L334.26,222.96 L334.54,222.96 L334.82,222.96 L335.10,222.96 L335.39,222.96 L335.67,222.96 L335.95,222.96 L336.23,222.96 L336.52,222.96 L336.80,222.96" stroke="#000" stroke-width="0.75" stroke-dasharray="4.5 4.0" stroke-dashoffset="2.60" stroke-opacity="0.55" fill="none"/>
<g font-family="'Liberation Serif', serif" font-size="10.0" fill="#000" stroke="#000" stroke-width="0.07">
<text x="48.27 53.24 55.81" y="13.95">0.2</text>
<text x="21.30" y="75.55">−</text>
<text x="27.00 31.67" y="74.95">10</text>
<text x="94.65 99.37" y="74.95">10</text>
<text x="117.86" y="66.75">x</text>
<text x="86.95" y="21.15">=</text>
<text x="93.55 98.55 101.05" y="20.30">0.5</text>
<text x="91.93" y="34.85">=</text>
<text x="98.53" y="34.00">0</text>
<text x="163.27 168.24 170.81" y="13.95">0.2</text>
<text x="136.30" y="75.55">−</text>
<text x="142.00 146.67" y="74.95">10</text>
<text x="209.65 214.37" y="74.95">10</text>
<text x="232.86" y="66.75">x</text>
<text x="205.60" y="21.15">=</text>
<text x="212.20" y="20.30">1</text>
<text x="206.93" y="34.85">=</text>
<text x="213.53" y="34.00">0</text>
<text x="278.27 283.24 285.81" y="13.95">0.2</text>
<text x="251.30" y="75.55">−</text>
<text x="257.00 261.67" y="74.95">10</text>
<text x="324.65 329.37" y="74.95">10</text>
<text x="347.86" y="66.75">x</text>
<text x="320.60" y="21.15">=</text>
<text x="327.20" y="20.30">2</text>
<text x="321.93" y="34.85">=</text>
<text x="328.53" y="34.00">0</text>
<text x="43.77 48.69 51.15 55.17" y="93.95">0.15</text>
<text x="33.63" y="155.70">−</text>
<text x="40.45 44.02" y="155.10">10</text>
<text x="82.35 86.37" y="155.10">10</text>
<text x="61.72" y="155.10">0</text>
<text x="116.11" y="146.75">x</text>
<text x="87.55" y="104.85">=</text>
<text x="94.15" y="104.00">1</text>
<text x="88.55" y="118.85">=</text>
<text x="95.15" y="118.00">1</text>
<text x="158.77 163.69 166.15 170.17" y="93.95">0.15</text>
<text x="148.63" y="155.70">−</text>
<text x="155.45 159.02" y="155.10">10</text>
<text x="197.35 201.37" y="155.10">10</text>
<text x="176.72" y="155.10">0</text>
<text x="231.11" y="146.75">x</text>
<text x="202.55" y="104.85">=</text>
<text x="209.15" y="104.00">2</text>
<text x="203.55" y="118.85">=</text>
<text x="210.15" y="118.00">1</text>
<text x="273.77 278.69 281.15 285.17" y="93.95">0.15</text>
<text x="263.63" y="155.70">−</text>
<text x="270.45 274.02" y="155.10">10</text>
<text x="312.35 316.37" y="155.10">10</text>
<text x="291.72" y="155.10">0</text>
<text x="346.11" y="146.75">x</text>
<text x="317.55" y="104.85">=</text>
<text x="324.15" y="104.00">4</text>
<text x="318.55" y="118.85">=</text>
<text x="325.15" y="118.00">1</text>
<text x="43.77 48.69 51.15 55.17" y="173.95">0.15</text>
<text x="36.15" y="235.75">−</text>
<text x="42.45 46.67" y="235.15">10</text>
<text x="80.00 84.27" y="235.15">10</text>
<text x="61.72" y="235.15">0</text>
<text x="116.11" y="226.75">x</text>
<text x="91.25" y="191.40">=</text>
<text x="97.85" y="190.55">1</text>
<text x="91.95" y="206.75">=</text>
<text x="98.55" y="205.90">2</text>
<text x="158.77 163.69 166.15 170.17" y="173.95">0.15</text>
<text x="151.15" y="235.75">−</text>
<text x="157.45 161.67" y="235.15">10</text>
<text x="195.00 199.27" y="235.15">10</text>
<text x="176.72" y="235.15">0</text>
<text x="231.11" y="226.75">x</text>
<text x="203.20" y="191.40">=</text>
<text x="209.80 214.00 216.50" y="190.55">1.5</text>
<text x="206.95" y="206.75">=</text>
<text x="213.55" y="205.90">2</text>
<text x="273.77 278.69 281.15 285.17" y="173.95">0.15</text>
<text x="266.15" y="235.75">−</text>
<text x="272.45 276.67" y="235.15">10</text>
<text x="310.00 314.27" y="235.15">10</text>
<text x="291.72" y="235.15">0</text>
<text x="346.11" y="226.75">x</text>
<text x="321.25" y="191.40">=</text>
<text x="327.85" y="190.55">2</text>
<text x="321.95" y="206.75">=</text>
<text x="328.55" y="205.90">2</text>
<g font-style="italic">
<text x="79.35" y="20.30">g</text>
<text x="80.59" y="34.00">m</text>
<text x="198.00" y="20.30">g</text>
<text x="195.59" y="34.00">m</text>
<text x="313.00" y="20.30">g</text>
<text x="310.59" y="34.00">m</text>
<text x="80.15" y="104.00">g</text>
<text x="77.64" y="118.00">m</text>
<text x="195.15" y="104.00">g</text>
<text x="192.64" y="118.00">m</text>
<text x="310.15" y="104.00">g</text>
<text x="307.64" y="118.00">m</text>
<text x="83.25" y="190.55">g</text>
<text x="81.24" y="205.90">m</text>
<text x="195.20" y="190.55">g</text>
<text x="196.24" y="205.90">m</text>
<text x="313.25" y="190.55">g</text>
<text x="311.24" y="205.90">m</text>
</g>
</g>
</svg>
</body></html>
